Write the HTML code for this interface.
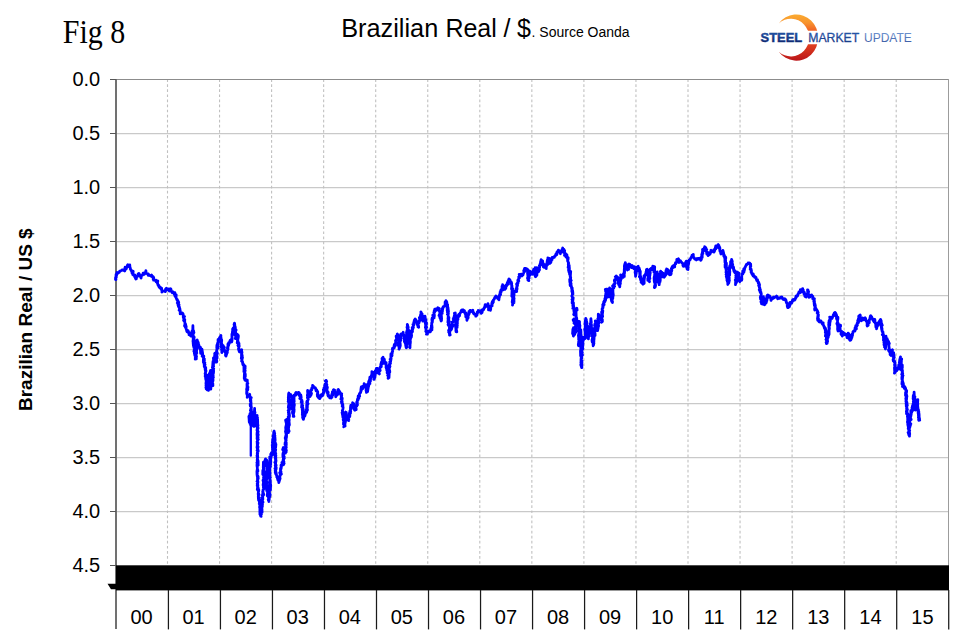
<!DOCTYPE html>
<html><head><meta charset="utf-8"><title>Fig 8 - Brazilian Real / $</title>
<style>
html,body{margin:0;padding:0;background:#fff;}
body{width:965px;height:639px;overflow:hidden;position:relative;font-family:"Liberation Sans",sans-serif;}
svg{position:absolute;left:0;top:0;display:block;}
text{font-family:"Liberation Sans",sans-serif;fill:#000;}
</style></head><body>
<svg width="965" height="639" viewBox="0 0 965 639">
<defs>
<linearGradient id="cres" gradientUnits="userSpaceOnUse" x1="0" y1="14.5" x2="0" y2="60.7">
<stop offset="0" stop-color="#fbab30"/><stop offset="0.18" stop-color="#f7932e"/><stop offset="0.36" stop-color="#f15f24"/><stop offset="0.65" stop-color="#e0401f"/><stop offset="1" stop-color="#bb1519"/>
</linearGradient>
<linearGradient id="tb" gradientUnits="userSpaceOnUse" x1="0" y1="32.5" x2="0" y2="42.3">
<stop offset="0" stop-color="#2159ad"/><stop offset="1" stop-color="#0c2266"/>
</linearGradient>
<linearGradient id="tb2" gradientUnits="userSpaceOnUse" x1="0" y1="32.5" x2="0" y2="42.3">
<stop offset="0" stop-color="#2c66b8"/><stop offset="1" stop-color="#122c74"/>
</linearGradient>
<linearGradient id="tb3" gradientUnits="userSpaceOnUse" x1="0" y1="32.5" x2="0" y2="42.3">
<stop offset="0" stop-color="#6f93cf"/><stop offset="1" stop-color="#3f60a8"/>
</linearGradient>
</defs>
<rect x="0" y="0" width="965" height="639" fill="#ffffff"/>

<g stroke="#c9c9c9" stroke-width="1.25">
<line x1="116.0" y1="133.5" x2="949.0" y2="133.5"/>
<line x1="116.0" y1="187.5" x2="949.0" y2="187.5"/>
<line x1="116.0" y1="241.5" x2="949.0" y2="241.5"/>
<line x1="116.0" y1="295.5" x2="949.0" y2="295.5"/>
<line x1="116.0" y1="349.5" x2="949.0" y2="349.5"/>
<line x1="116.0" y1="403.5" x2="949.0" y2="403.5"/>
<line x1="116.0" y1="457.5" x2="949.0" y2="457.5"/>
<line x1="116.0" y1="511.5" x2="949.0" y2="511.5"/>
</g>
<g stroke="#c0c0c0" stroke-width="1.1" stroke-dasharray="2.7 2.373">
<line x1="167.50" y1="79.2" x2="167.50" y2="565"/>
<line x1="219.55" y1="79.2" x2="219.55" y2="565"/>
<line x1="271.60" y1="79.2" x2="271.60" y2="565"/>
<line x1="323.65" y1="79.2" x2="323.65" y2="565"/>
<line x1="375.70" y1="79.2" x2="375.70" y2="565"/>
<line x1="427.75" y1="79.2" x2="427.75" y2="565"/>
<line x1="479.80" y1="79.2" x2="479.80" y2="565"/>
<line x1="531.85" y1="79.2" x2="531.85" y2="565"/>
<line x1="583.90" y1="79.2" x2="583.90" y2="565"/>
<line x1="635.95" y1="79.2" x2="635.95" y2="565"/>
<line x1="688.00" y1="79.2" x2="688.00" y2="565"/>
<line x1="740.05" y1="79.2" x2="740.05" y2="565"/>
<line x1="792.10" y1="79.2" x2="792.10" y2="565"/>
<line x1="844.15" y1="79.2" x2="844.15" y2="565"/>
<line x1="896.20" y1="79.2" x2="896.20" y2="565"/>
</g>
<line x1="116.0" y1="79.5" x2="949.0" y2="79.5" stroke="#8c8c8c" stroke-width="1"/>
<line x1="948.5" y1="79" x2="948.5" y2="590" stroke="#9c9c9c" stroke-width="1"/>
<line x1="116" y1="79" x2="116" y2="629" stroke="#6a6a6a" stroke-width="1.9"/>
<g stroke="#555" stroke-width="1" shape-rendering="crispEdges">
<line x1="110" y1="79.5" x2="116" y2="79.5"/>
<line x1="110" y1="133.5" x2="116" y2="133.5"/>
<line x1="110" y1="187.5" x2="116" y2="187.5"/>
<line x1="110" y1="241.5" x2="116" y2="241.5"/>
<line x1="110" y1="295.5" x2="116" y2="295.5"/>
<line x1="110" y1="349.5" x2="116" y2="349.5"/>
<line x1="110" y1="403.5" x2="116" y2="403.5"/>
<line x1="110" y1="457.5" x2="116" y2="457.5"/>
<line x1="110" y1="511.5" x2="116" y2="511.5"/>
<line x1="110" y1="565.5" x2="116" y2="565.5"/>
</g>
<path d="M116.0 279.5 L115.5 279.5 L115.6 277.3 L116.3 277.2 L115.8 278.2 L116.0 277.1 L116.1 274.4 L116.4 275.9 L117.0 273.4 L117.0 272.4 L117.6 273.5 L117.3 273.1 L117.8 272.9 L118.7 272.6 L119.0 272.3 L119.3 272.3 L119.7 271.2 L120.4 271.0 L121.1 270.6 L121.9 270.0 L122.7 269.9 L123.3 270.4 L123.8 270.3 L124.7 271.0 L125.1 269.7 L124.8 268.5 L125.1 267.3 L125.8 268.4 L126.3 268.8 L126.5 267.7 L127.0 267.3 L127.2 265.8 L127.8 264.8 L128.4 265.4 L128.1 265.1 L129.2 266.6 L129.8 265.5 L129.8 265.0 L129.8 266.4 L130.5 268.9 L130.4 269.3 L131.2 270.0 L131.1 270.6 L131.8 271.1 L131.8 272.0 L132.4 272.3 L132.0 273.0 L132.4 271.1 L133.2 271.4 L132.7 274.6 L133.1 274.5 L133.6 275.2 L133.4 274.5 L134.0 274.9 L134.8 275.0 L134.8 277.0 L135.1 275.8 L134.8 276.9 L135.8 279.0 L136.0 277.7 L135.6 277.9 L136.4 278.7 L136.2 278.2 L136.5 277.5 L136.6 276.7 L137.0 276.5 L137.1 276.5 L138.2 276.0 L137.9 274.6 L138.2 273.9 L138.9 273.4 L139.5 274.5 L139.1 273.9 L139.5 275.3 L140.6 275.4 L140.4 276.7 L141.1 278.0 L141.2 276.3 L142.0 275.1 L142.8 274.6 L142.6 275.0 L143.1 273.1 L143.6 273.9 L144.3 274.3 L144.7 272.7 L145.3 272.8 L145.6 272.9 L145.9 270.6 L146.0 271.8 L146.1 273.3 L146.7 273.6 L147.4 273.6 L148.0 274.5 L148.4 274.1 L148.2 275.3 L148.6 275.0 L149.5 275.3 L150.4 275.8 L150.8 276.0 L151.6 275.0 L152.3 276.5 L152.5 277.0 L152.3 277.0 L153.0 276.5 L153.4 276.9 L153.2 279.3 L153.7 277.6 L153.5 280.2 L154.7 280.1 L155.1 280.3 L155.8 281.1 L156.1 281.8 L156.1 280.2 L156.6 281.5 L157.2 282.7 L157.7 282.0 L157.8 280.8 L157.4 283.3 L157.6 283.6 L158.1 284.9 L157.9 284.8 L158.8 286.2 L158.6 285.5 L159.1 287.1 L158.9 285.4 L159.6 287.7 L160.1 287.3 L160.5 287.4 L161.1 289.3 L161.5 288.6 L161.4 288.6 L161.6 288.2 L161.4 288.3 L161.8 289.5 L162.1 290.7 L161.9 292.1 L162.4 290.8 L162.6 291.2 L163.3 291.1 L164.0 291.2 L164.5 290.9 L165.3 291.6 L165.7 290.7 L165.5 289.2 L166.4 288.3 L166.3 288.7 L166.6 289.8 L167.2 289.7 L168.0 289.8 L168.5 289.0 L168.8 289.5 L168.8 290.2 L169.3 291.1 L170.4 288.7 L170.9 289.0 L171.2 290.6 L171.4 291.2 L171.7 292.0 L172.5 292.0 L172.3 292.8 L172.8 291.8 L173.5 292.5 L173.7 292.5 L174.9 292.9 L174.4 294.6 L174.9 292.7 L175.1 296.3 L175.3 296.5 L176.2 294.8 L176.0 297.5 L176.5 298.8 L177.0 300.1 L177.2 299.3 L177.2 299.4 L177.7 301.8 L178.0 301.8 L177.3 302.9 L178.4 302.9 L178.1 301.1 L178.7 302.4 L178.3 302.8 L178.0 304.1 L177.9 304.7 L178.2 305.2 L179.1 304.8 L178.5 306.6 L178.7 305.5 L178.4 306.5 L179.5 307.2 L179.3 308.0 L179.9 308.9 L179.1 310.2 L179.6 310.3 L180.0 309.4 L180.0 309.7 L180.4 311.8 L180.2 311.1 L180.2 313.9 L180.3 312.1 L181.0 312.7 L181.8 313.6 L182.4 313.0 L183.2 314.3 L183.1 314.4 L182.9 313.8 L183.2 314.9 L183.1 315.4 L184.0 316.4 L183.3 317.6 L184.5 316.4 L183.2 316.4 L183.8 318.6 L183.6 316.4 L184.1 318.4 L183.6 320.3 L184.1 320.0 L184.0 320.6 L184.0 320.9 L184.8 319.7 L184.7 320.5 L184.4 321.4 L184.4 319.5 L185.0 323.5 L184.9 324.0 L185.3 327.0 L185.0 326.4 L184.5 325.8 L185.0 324.2 L185.6 324.2 L185.9 326.6 L185.9 325.7 L186.2 326.7 L185.9 328.4 L186.4 329.4 L186.8 331.2 L187.1 331.7 L187.2 330.2 L187.0 330.2 L187.8 332.0 L188.2 330.9 L188.7 332.3 L188.5 332.9 L189.3 334.3 L189.1 334.8 L189.7 334.8 L189.9 332.8 L190.6 333.7 L190.8 336.0 L190.5 335.4 L190.8 334.8 L191.3 334.6 L190.9 333.3 L191.8 334.2 L192.0 333.5 L192.0 332.3 L192.1 331.1 L192.8 330.7 L192.1 330.9 L192.0 333.4 L192.8 330.2 L193.0 331.0 L192.9 325.7 L192.8 329.5 L193.4 333.6 L193.9 332.6 L192.8 333.1 L193.8 332.9 L193.6 330.8 L193.3 332.8 L192.7 336.7 L193.3 336.5 L193.1 335.2 L193.2 336.1 L193.9 337.0 L193.9 339.1 L192.9 337.5 L194.1 339.7 L193.2 337.3 L194.2 337.2 L193.7 339.8 L193.3 338.7 L193.0 341.2 L193.3 343.3 L194.2 343.7 L193.7 342.4 L193.2 343.7 L194.2 340.5 L194.1 345.7 L194.3 342.2 L193.8 341.6 L194.1 344.3 L193.7 345.0 L193.5 346.2 L193.3 344.6 L193.9 347.6 L193.9 347.7 L194.8 347.7 L193.9 351.4 L194.4 349.5 L194.3 349.1 L194.1 351.0 L195.2 352.3 L195.3 351.1 L195.5 352.3 L194.5 352.2 L194.4 353.7 L194.7 353.9 L194.8 355.3 L195.6 352.5 L195.2 353.8 L195.3 354.3 L195.3 357.5 L196.3 358.9 L195.2 359.0 L196.2 355.6 L195.4 356.5 L195.7 356.2 L195.8 357.0 L196.4 358.6 L195.3 354.7 L196.5 356.7 L196.0 354.8 L195.9 353.4 L196.7 352.6 L196.8 353.4 L195.8 349.0 L196.2 351.0 L196.5 350.9 L196.5 352.2 L196.7 348.9 L195.7 346.6 L196.8 348.1 L196.6 347.9 L196.2 350.5 L196.7 348.1 L196.8 347.1 L196.6 346.0 L196.7 345.2 L196.8 343.4 L196.0 344.1 L197.4 342.5 L197.0 343.9 L196.5 343.4 L196.5 340.6 L196.6 342.5 L196.5 341.2 L197.2 339.9 L197.2 341.8 L197.4 341.4 L197.4 340.8 L198.3 342.6 L198.0 345.0 L198.6 345.5 L198.5 344.0 L199.3 346.4 L198.9 346.4 L199.2 347.3 L200.1 349.2 L199.6 347.8 L200.1 348.5 L200.0 347.9 L200.5 347.3 L200.5 350.2 L200.7 353.3 L201.8 352.8 L202.0 352.5 L202.3 352.0 L201.9 349.1 L202.6 353.3 L202.1 356.2 L202.6 354.4 L202.6 353.9 L202.7 355.3 L202.9 356.0 L203.7 357.2 L202.9 357.1 L203.8 356.1 L203.4 359.8 L203.4 360.7 L204.3 360.3 L204.4 360.6 L203.3 361.9 L204.4 359.0 L203.5 362.5 L204.9 362.8 L204.1 362.9 L204.2 363.2 L204.2 360.4 L204.3 365.5 L205.0 364.6 L204.1 364.8 L205.2 366.9 L205.5 368.7 L204.3 366.5 L205.7 367.6 L205.7 369.9 L205.1 368.3 L205.2 369.9 L205.7 370.9 L205.7 370.2 L205.6 372.1 L205.3 369.3 L206.0 370.9 L205.1 373.7 L205.4 374.3 L205.2 376.5 L205.6 376.9 L206.6 375.9 L205.7 379.1 L205.5 373.7 L206.5 377.5 L206.2 378.3 L206.5 378.1 L206.6 379.9 L206.6 379.1 L205.8 376.3 L206.4 379.8 L206.2 379.3 L206.0 380.6 L206.0 380.4 L206.5 383.6 L206.2 385.7 L206.4 380.0 L206.0 385.9 L207.1 385.7 L205.9 383.1 L206.9 382.1 L207.0 385.6 L205.9 387.7 L206.0 387.7 L207.1 389.8 L206.3 388.4 L206.2 388.8 L207.0 386.1 L206.8 387.0 L206.9 385.8 L206.3 385.7 L206.5 386.4 L207.2 384.6 L206.6 385.9 L207.3 385.1 L206.7 383.2 L207.6 381.8 L207.3 382.4 L207.2 381.8 L207.5 380.9 L207.0 379.5 L207.8 378.6 L207.3 377.4 L208.3 378.5 L207.5 376.9 L207.7 378.7 L207.7 381.5 L207.5 375.1 L207.2 377.8 L208.5 377.9 L207.9 376.9 L208.6 381.0 L207.4 380.1 L208.2 381.5 L207.6 379.8 L208.4 379.4 L207.8 381.0 L208.0 384.5 L207.8 380.9 L208.4 383.5 L208.0 386.4 L208.0 382.3 L208.5 389.6 L208.0 386.3 L209.2 388.8 L208.8 387.7 L209.1 389.0 L208.4 388.5 L209.3 387.1 L208.4 390.3 L208.9 389.2 L208.7 389.8 L209.3 388.8 L209.5 388.1 L209.4 388.7 L208.4 386.9 L209.2 386.0 L209.2 384.2 L209.0 383.1 L209.3 382.4 L209.2 380.7 L209.2 382.9 L209.3 384.2 L209.0 382.2 L209.3 381.2 L209.0 377.6 L208.9 378.3 L209.4 378.9 L209.5 379.9 L208.9 379.2 L209.9 377.3 L210.0 376.3 L209.7 375.6 L209.5 375.5 L210.2 375.9 L210.5 374.5 L209.4 373.7 L210.5 371.6 L210.5 370.5 L209.5 374.8 L209.4 376.9 L209.8 373.5 L210.6 376.6 L209.8 376.9 L210.1 378.7 L210.7 378.4 L210.2 379.9 L210.0 381.5 L209.8 382.2 L210.9 382.0 L209.9 380.8 L210.8 379.3 L210.6 383.8 L210.3 385.2 L210.6 386.1 L211.1 383.9 L210.8 389.2 L210.5 388.9 L211.4 385.7 L210.8 383.0 L210.7 381.3 L210.4 384.3 L211.3 382.5 L210.5 381.2 L211.1 378.0 L211.2 376.2 L210.4 378.8 L210.6 379.1 L211.1 377.5 L211.7 376.7 L211.4 378.0 L210.6 378.0 L210.7 378.2 L211.1 376.4 L211.5 375.8 L211.0 377.0 L210.9 373.5 L212.1 372.3 L211.0 372.8 L211.8 373.4 L211.5 374.1 L211.3 371.1 L211.8 375.0 L211.5 374.3 L212.4 373.4 L212.2 373.2 L211.3 375.0 L212.0 379.3 L211.4 376.4 L212.5 377.7 L212.7 379.8 L211.7 378.9 L212.2 379.6 L212.5 381.6 L212.1 380.8 L212.1 379.8 L212.8 384.0 L212.8 383.3 L212.9 385.6 L212.6 383.7 L212.2 382.3 L212.1 379.9 L212.4 380.7 L213.0 380.8 L213.0 379.0 L212.4 376.3 L213.1 376.5 L212.8 377.1 L213.4 377.2 L212.4 379.3 L212.5 377.3 L212.4 376.1 L213.2 375.4 L212.6 371.1 L212.5 374.5 L213.5 372.9 L213.1 371.4 L213.6 370.5 L213.2 368.7 L213.5 371.3 L213.1 368.7 L212.7 370.9 L212.4 370.6 L213.6 371.7 L212.5 369.7 L213.7 368.8 L212.4 367.4 L212.5 367.8 L213.4 366.0 L213.5 363.9 L213.0 366.9 L213.6 366.2 L212.6 366.2 L213.7 361.3 L212.7 365.9 L213.0 361.5 L214.0 362.2 L214.0 361.9 L213.9 359.2 L213.5 357.9 L214.3 359.9 L213.6 359.8 L213.4 358.3 L213.9 359.6 L214.1 357.5 L214.1 359.4 L215.0 358.9 L214.8 356.2 L214.6 357.0 L215.2 355.6 L215.0 353.2 L214.6 355.4 L215.5 354.0 L214.7 353.5 L215.7 355.3 L216.1 355.2 L215.5 357.3 L216.0 356.6 L215.5 357.5 L216.3 359.1 L215.6 358.0 L215.6 362.2 L215.6 359.3 L216.4 357.9 L216.6 362.1 L216.8 361.4 L216.3 358.4 L216.3 357.2 L217.0 358.1 L215.9 356.9 L217.2 357.0 L216.7 357.4 L216.3 353.6 L216.7 356.8 L217.2 352.4 L217.1 352.9 L216.4 352.3 L217.4 353.7 L216.6 351.1 L217.0 349.2 L216.6 350.8 L217.1 348.5 L216.8 350.4 L217.0 348.8 L216.8 347.9 L216.9 345.2 L217.5 347.0 L217.0 348.4 L218.2 346.5 L217.9 347.0 L217.1 349.0 L217.5 348.3 L218.1 348.0 L217.7 344.5 L217.3 344.2 L217.5 345.0 L217.8 342.5 L218.3 341.9 L218.2 340.7 L218.1 339.3 L218.0 340.5 L218.5 340.7 L218.7 340.2 L219.3 338.3 L219.7 337.4 L220.3 337.9 L220.7 337.6 L220.9 335.4 L220.5 336.3 L220.9 336.8 L221.2 339.2 L221.2 340.0 L220.8 339.2 L220.9 339.3 L221.3 339.4 L221.7 339.9 L221.5 342.5 L221.0 344.7 L220.6 339.3 L221.4 342.9 L222.0 345.4 L221.4 347.3 L221.5 347.5 L221.8 347.6 L222.0 344.5 L221.6 346.3 L221.2 344.0 L222.0 349.2 L221.2 346.7 L222.5 350.3 L221.5 349.6 L221.8 350.6 L221.8 352.5 L222.3 351.9 L221.7 350.2 L222.6 350.9 L222.0 351.4 L222.9 348.9 L222.2 347.8 L223.1 348.3 L222.9 348.1 L223.1 345.5 L223.0 346.4 L223.6 349.7 L223.6 348.9 L223.6 346.4 L224.4 347.5 L224.0 348.5 L224.3 349.8 L224.3 349.3 L224.3 349.7 L225.2 351.0 L225.0 351.3 L225.4 352.7 L225.8 351.2 L225.6 353.3 L225.5 355.5 L226.6 353.5 L226.0 356.1 L226.9 353.2 L226.0 353.1 L227.3 352.6 L226.4 351.8 L226.5 350.9 L226.9 351.2 L226.7 353.0 L226.9 352.7 L228.0 348.9 L227.8 347.1 L228.2 346.5 L227.4 348.1 L228.1 345.0 L227.9 344.1 L228.6 345.3 L227.9 344.7 L227.9 344.8 L228.4 344.3 L228.2 344.1 L228.7 342.6 L229.1 342.9 L228.9 344.3 L229.5 342.9 L229.8 341.3 L230.3 340.1 L231.0 341.5 L231.5 341.2 L231.7 342.0 L232.0 340.7 L231.7 338.4 L231.8 341.3 L232.1 339.3 L232.1 337.9 L231.9 335.9 L232.1 339.0 L231.9 334.2 L232.3 334.7 L232.9 333.1 L232.3 334.9 L232.6 334.8 L232.4 332.2 L233.0 328.5 L233.3 331.0 L232.7 330.8 L233.2 332.0 L232.6 329.1 L233.6 327.7 L232.8 330.2 L233.3 327.9 L234.3 329.0 L233.9 328.0 L234.5 325.8 L234.2 324.1 L234.4 323.9 L234.4 323.5 L234.6 324.0 L234.4 323.2 L234.1 324.7 L234.0 324.7 L234.9 326.4 L234.6 323.3 L234.9 327.6 L234.5 325.4 L234.7 327.2 L234.9 330.2 L234.4 327.5 L235.2 326.7 L235.6 330.6 L235.3 331.4 L234.6 333.3 L235.2 331.9 L236.1 330.1 L235.5 331.2 L235.7 333.0 L235.3 334.6 L235.1 335.3 L236.0 335.9 L235.3 338.5 L236.7 338.6 L237.0 336.4 L236.8 335.7 L237.1 335.0 L238.0 334.8 L238.0 335.4 L237.2 334.3 L237.7 335.4 L238.4 335.9 L238.2 337.8 L237.2 342.8 L238.4 342.7 L237.4 341.1 L237.6 339.9 L238.6 343.4 L238.0 341.7 L238.3 342.4 L237.7 340.7 L238.7 343.8 L238.5 342.6 L238.2 345.9 L239.0 343.4 L238.9 347.1 L237.9 345.4 L239.2 346.1 L238.4 346.3 L238.8 345.4 L238.8 349.9 L238.5 349.1 L238.6 347.8 L239.0 350.6 L239.2 349.2 L238.7 349.7 L239.4 351.7 L240.2 351.4 L240.3 352.1 L241.7 349.6 L241.5 352.2 L241.2 350.7 L241.7 353.6 L242.0 352.2 L241.6 353.5 L242.0 354.9 L242.3 356.0 L241.3 358.4 L241.7 355.1 L241.4 355.0 L242.2 356.8 L241.8 360.4 L242.3 361.5 L241.6 361.1 L242.5 357.5 L242.0 358.3 L241.8 358.5 L242.0 360.9 L242.5 362.4 L242.9 364.0 L242.6 362.0 L242.7 363.9 L243.0 365.0 L243.8 364.6 L244.0 365.1 L243.9 364.7 L243.7 365.4 L245.2 366.3 L244.6 368.1 L244.2 366.5 L245.2 368.1 L244.9 367.0 L244.2 370.5 L243.9 366.4 L244.0 369.8 L243.9 371.7 L244.5 368.7 L245.2 370.3 L244.7 372.7 L244.5 372.9 L244.3 376.6 L244.7 377.8 L244.9 373.3 L244.5 372.0 L245.3 374.3 L245.3 376.5 L244.3 377.2 L244.5 378.1 L245.0 380.2 L244.2 378.1 L244.8 379.6 L245.2 378.5 L245.6 380.4 L246.3 380.8 L246.5 380.4 L247.3 380.2 L247.3 381.8 L247.2 382.6 L247.3 382.0 L247.1 383.0 L247.8 383.5 L247.0 383.9 L247.1 388.2 L248.0 387.0 L246.9 388.5 L247.3 384.6 L247.8 389.5 L247.5 390.3 L247.8 387.5 L247.2 389.0 L246.9 388.7 L246.6 389.1 L246.7 389.8 L247.7 388.9 L246.7 390.9 L246.8 393.6 L246.7 393.7 L247.1 392.7 L246.6 392.8 L247.5 396.0 L247.2 397.3 L247.3 396.5 L247.9 395.1 L248.3 395.9 L249.7 394.3 L250.1 398.1 L250.6 397.8 L250.4 397.7 L251.3 397.6 L250.3 397.3 L250.4 398.8 L250.2 398.2 L250.4 400.3 L250.7 398.8 L250.9 401.4 L250.3 401.0 L251.1 403.0 L250.4 405.2 L251.0 404.3 L250.8 404.2 L251.0 404.1 L251.1 405.8 L250.4 406.3 L250.2 404.1 L251.1 405.8 L250.2 405.2 L251.3 407.5 L251.3 406.7 L251.4 407.9 L250.8 409.0 L250.4 410.5 L251.3 409.5 L250.6 409.9 L250.9 411.8 L250.6 413.9 L250.6 413.0 L250.9 415.0 L250.8 415.8 L250.0 413.6 L250.4 416.8 L250.6 418.8 L249.8 418.0 L249.8 415.0 L248.9 416.5 L249.1 418.6 L249.1 418.2 L249.1 418.7 L249.3 422.2 L249.3 420.3 L250.3 419.6 L250.5 419.1 L249.8 420.3 L249.9 423.4 L250.1 421.4 L250.4 421.3 L250.3 423.5 L251.1 423.7 L251.6 424.2 L251.5 424.7 L250.7 424.8 L251.1 424.5 L251.2 419.0 L251.3 421.6 L252.1 419.1 L251.2 420.0 L251.4 418.1 L252.1 414.6 L252.3 419.1 L251.2 419.3 L251.9 414.9 L251.6 419.8 L251.9 416.1 L252.1 414.7 L251.5 413.8 L251.5 412.6 L251.8 414.3 L252.9 416.3 L252.6 413.2 L253.0 414.8 L251.8 411.4 L252.8 413.2 L252.3 413.9 L252.8 412.0 L252.3 414.5 L253.3 414.8 L252.5 416.8 L252.3 417.1 L253.0 420.5 L252.6 421.5 L252.9 419.8 L252.4 419.5 L252.5 420.5 L252.8 420.9 L252.7 423.5 L253.6 424.6 L253.3 424.7 L252.8 422.1 L253.6 422.9 L253.5 422.6 L253.3 425.3 L253.0 425.5 L253.5 426.4 L252.8 423.6 L253.3 425.4 L253.7 424.8 L253.6 422.6 L253.4 421.5 L254.1 426.3 L254.3 422.9 L253.7 421.8 L253.8 422.1 L254.2 420.9 L254.6 420.4 L254.3 419.7 L253.8 419.2 L254.3 419.1 L254.6 415.1 L254.2 414.0 L254.6 415.1 L254.2 412.6 L254.9 414.7 L253.8 411.8 L254.8 413.2 L254.6 412.9 L254.6 408.5 L254.4 412.2 L254.7 414.2 L254.5 411.3 L255.0 412.4 L254.4 415.3 L254.6 414.4 L254.5 417.4 L254.8 418.0 L254.8 414.9 L254.4 418.1 L255.1 420.0 L255.6 419.1 L254.8 419.5 L255.7 422.1 L254.7 418.9 L254.5 418.0 L254.6 422.8 L255.8 421.2 L255.7 422.2 L255.3 418.1 L255.4 421.7 L255.2 423.7 L255.6 422.7 L255.8 421.1 L255.6 425.7 L255.5 424.5 L255.8 423.4 L256.5 419.0 L255.8 418.8 L256.6 417.8 L255.8 419.9 L255.6 416.4 L255.9 417.4 L256.2 420.6 L255.7 417.7 L256.8 418.8 L257.1 415.3 L256.0 417.9 L256.3 416.6 L256.2 415.9 L256.3 417.8 L256.6 417.4 L257.5 417.6 L256.8 419.4 L257.4 420.2 L256.4 420.3 L256.9 423.8 L257.5 424.0 L256.9 421.6 L257.0 421.1 L257.7 423.4 L257.6 419.1 L257.5 422.7 L258.0 425.7 L257.0 426.9 L257.6 427.7 L258.1 428.1 L257.0 425.9 L256.9 426.1 L257.9 428.6 L257.4 428.0 L257.0 430.3 L258.2 431.8 L257.5 430.2 L257.4 430.8 L257.7 435.2 L258.2 434.7 L257.2 431.8 L257.0 434.4 L257.3 437.4 L258.2 434.5 L257.7 436.0 L258.2 435.0 L257.2 432.6 L257.4 436.3 L257.3 437.4 L258.1 437.2 L257.2 435.9 L257.1 439.0 L258.3 439.3 L257.3 441.2 L257.6 440.6 L257.4 441.3 L257.1 441.7 L258.1 443.0 L257.2 442.7 L257.3 444.7 L257.8 444.7 L257.4 445.5 L257.0 447.1 L257.3 448.5 L257.5 447.7 L258.1 446.8 L257.4 448.0 L257.9 447.5 L257.2 445.8 L258.2 451.4 L257.5 449.4 L257.1 450.4 L258.2 450.7 L257.7 450.4 L257.8 451.1 L257.2 453.3 L257.6 454.0 L257.7 453.5 L257.4 454.0 L257.8 457.5 L257.4 454.9 L257.0 455.4 L257.3 457.8 L257.8 460.2 L257.4 460.1 L257.6 460.1 L257.3 459.1 L257.2 460.0 L257.3 461.9 L257.5 462.8 L258.1 463.9 L258.1 460.8 L256.9 462.8 L257.9 463.8 L257.5 462.8 L257.8 462.4 L258.1 463.7 L257.4 463.6 L257.1 464.5 L258.2 465.1 L257.0 466.1 L257.0 464.5 L257.3 467.6 L257.4 469.1 L257.8 470.3 L257.2 470.1 L257.9 471.2 L257.3 469.0 L257.4 468.5 L256.9 471.9 L257.3 473.6 L257.0 470.7 L257.0 474.0 L257.2 472.3 L257.2 476.1 L258.2 477.1 L257.9 476.0 L257.5 475.5 L257.3 476.4 L257.0 474.1 L258.2 478.5 L257.9 477.9 L257.8 478.5 L257.5 476.3 L257.5 481.4 L257.6 481.6 L258.0 482.0 L257.0 481.4 L257.3 481.2 L257.7 479.7 L257.7 484.6 L257.2 483.7 L257.5 485.6 L257.2 485.7 L257.9 485.3 L257.8 486.7 L257.6 486.8 L257.5 488.3 L257.3 489.3 L258.2 488.0 L257.6 490.0 L258.4 491.2 L257.6 487.8 L258.4 489.2 L258.6 489.3 L258.8 490.2 L258.3 492.8 L258.2 493.8 L258.3 494.8 L259.1 494.7 L258.6 493.9 L258.9 495.1 L258.4 495.0 L258.3 496.7 L258.5 499.5 L259.4 497.8 L258.6 500.0 L259.2 498.7 L259.3 498.1 L258.6 499.7 L259.5 502.1 L260.0 500.0 L259.1 500.4 L259.0 500.6 L260.0 504.7 L259.3 503.9 L260.1 504.6 L260.3 506.3 L260.2 506.5 L260.1 508.0 L260.3 505.9 L259.6 507.2 L259.8 505.7 L260.5 508.5 L260.1 508.2 L260.3 509.0 L260.7 510.2 L260.8 507.7 L259.8 507.8 L260.0 510.2 L260.6 510.6 L259.9 511.4 L259.9 508.4 L259.9 513.4 L260.9 512.7 L259.9 514.2 L261.1 516.4 L260.6 513.0 L260.8 513.6 L260.7 516.1 L261.1 513.1 L261.4 514.3 L260.8 513.5 L261.0 511.6 L260.8 509.9 L260.7 509.8 L262.0 509.2 L262.0 510.9 L262.1 512.2 L261.7 506.1 L261.9 507.5 L261.8 506.8 L262.4 506.1 L261.8 508.0 L261.7 505.3 L262.5 504.0 L262.3 505.3 L262.0 504.4 L262.0 505.5 L262.4 504.6 L262.4 501.1 L262.2 502.4 L263.0 502.1 L262.6 501.5 L262.3 502.7 L262.1 502.2 L262.7 498.5 L262.8 498.1 L262.2 498.1 L262.8 499.4 L262.7 496.7 L262.3 495.8 L263.0 492.6 L263.3 495.5 L263.7 494.6 L263.4 493.2 L262.9 495.5 L262.7 495.1 L263.6 494.8 L262.7 491.8 L262.9 491.2 L263.1 490.0 L262.9 492.0 L263.1 490.1 L264.0 488.6 L263.6 486.6 L264.1 488.7 L264.1 486.0 L263.4 487.6 L264.0 488.6 L263.1 484.9 L263.5 482.1 L264.1 483.4 L263.2 479.7 L263.8 481.7 L264.2 481.8 L264.0 484.6 L263.3 484.5 L264.1 482.3 L263.7 482.4 L263.0 480.6 L264.0 479.7 L263.2 479.6 L263.8 480.3 L264.0 477.5 L263.5 477.6 L264.0 475.6 L262.7 473.1 L263.4 474.2 L263.8 475.3 L262.8 474.5 L263.7 473.4 L263.2 472.4 L262.7 471.0 L263.8 472.5 L263.5 470.3 L263.0 471.9 L264.1 471.3 L263.1 469.7 L263.5 469.0 L263.6 466.7 L263.6 468.1 L263.7 469.7 L263.3 467.7 L263.4 462.2 L263.7 466.1 L263.9 464.9 L264.3 463.7 L264.4 463.9 L265.1 465.7 L264.6 464.1 L265.0 462.9 L264.9 463.8 L265.0 460.5 L265.2 460.1 L265.4 461.0 L264.8 461.7 L265.4 459.2 L265.6 459.8 L265.6 459.0 L265.5 459.4 L266.2 460.7 L266.7 460.1 L266.8 465.6 L266.8 463.9 L266.5 464.8 L266.9 467.6 L266.9 465.7 L266.5 464.3 L266.3 465.0 L267.2 465.7 L266.9 468.1 L267.4 469.1 L267.0 467.9 L266.9 469.4 L267.5 469.8 L266.7 468.2 L267.3 472.0 L267.3 472.9 L266.4 472.6 L266.3 472.2 L266.4 472.9 L266.6 472.8 L266.3 472.5 L266.9 471.3 L266.2 472.1 L266.8 474.2 L266.0 471.5 L266.4 476.4 L266.1 473.9 L267.1 477.4 L266.7 479.8 L266.3 480.0 L266.9 479.0 L266.7 478.7 L266.3 478.7 L265.8 481.9 L266.6 482.2 L266.6 481.2 L266.1 483.8 L267.0 483.1 L266.5 483.6 L266.5 484.6 L266.7 484.7 L265.9 484.9 L265.8 486.3 L266.7 486.5 L266.3 486.2 L266.6 485.2 L266.8 486.9 L267.0 487.1 L266.5 487.9 L267.3 488.7 L266.7 487.4 L267.0 490.6 L266.9 487.2 L266.8 487.3 L266.7 490.7 L267.9 490.4 L267.4 493.2 L268.1 495.0 L267.2 494.8 L267.3 496.0 L268.0 496.0 L268.7 495.4 L268.0 496.3 L268.6 497.8 L269.0 498.8 L268.9 498.9 L268.2 499.4 L268.9 501.5 L268.6 500.4 L268.6 500.1 L269.5 497.5 L268.4 500.0 L269.2 499.8 L268.5 495.2 L269.2 498.0 L269.8 493.5 L269.5 496.8 L269.0 495.5 L269.3 495.7 L269.8 494.3 L269.7 494.4 L269.2 491.5 L269.7 496.7 L270.2 494.4 L269.4 494.3 L269.5 491.3 L269.6 487.2 L269.4 485.3 L270.2 488.0 L270.2 486.6 L270.6 486.2 L269.9 487.5 L270.5 489.8 L270.5 487.4 L270.7 485.0 L269.5 484.6 L270.6 484.5 L269.5 487.2 L270.3 484.2 L270.2 483.6 L269.3 482.8 L270.2 479.7 L270.4 483.4 L269.5 481.3 L270.2 479.9 L269.8 479.1 L269.4 478.2 L269.1 477.3 L270.4 477.6 L269.2 475.6 L269.7 479.0 L269.2 477.5 L269.9 476.9 L269.6 476.6 L269.1 476.7 L270.2 473.1 L269.4 474.3 L270.1 473.7 L269.8 476.2 L269.2 472.2 L268.9 471.9 L269.5 472.3 L269.7 470.6 L269.9 469.2 L269.9 468.7 L270.0 466.1 L270.5 466.4 L269.7 468.3 L269.6 464.8 L269.8 461.6 L269.8 466.2 L270.7 464.1 L269.3 464.3 L269.7 460.7 L270.3 459.9 L269.7 460.7 L269.7 462.2 L270.8 462.8 L269.7 458.7 L270.5 459.1 L270.4 458.0 L269.7 456.9 L270.8 461.7 L270.6 459.7 L271.2 456.5 L270.9 456.7 L270.5 457.8 L270.7 455.7 L270.8 453.9 L271.2 453.7 L271.5 452.8 L271.5 453.5 L272.7 454.7 L272.6 451.0 L272.6 451.9 L273.2 451.5 L272.7 451.5 L273.1 448.7 L272.4 449.0 L272.7 450.3 L273.0 451.4 L273.3 450.2 L272.2 445.0 L273.3 444.0 L272.4 447.6 L272.4 446.7 L272.8 446.4 L272.9 445.5 L272.4 442.4 L273.3 438.8 L273.0 444.9 L273.5 440.0 L272.6 441.5 L273.2 440.5 L272.8 439.0 L273.0 438.6 L272.6 440.1 L272.7 439.7 L272.9 440.4 L273.2 438.0 L273.1 436.0 L273.7 436.6 L274.1 435.4 L274.0 435.8 L273.8 436.5 L273.6 434.4 L273.6 434.1 L273.7 432.9 L274.1 431.2 L273.7 432.2 L274.1 431.3 L274.7 433.7 L274.4 433.4 L273.9 432.5 L273.6 436.1 L274.3 435.7 L274.3 434.5 L273.7 438.3 L274.5 436.0 L274.9 435.6 L274.4 438.1 L274.5 435.5 L274.6 439.0 L274.9 436.9 L275.1 439.5 L275.1 440.4 L274.9 441.7 L274.4 442.5 L274.6 440.1 L274.5 445.2 L274.5 445.6 L274.5 444.9 L275.4 443.0 L274.5 444.5 L275.4 444.0 L275.9 444.3 L275.6 447.6 L274.9 448.4 L275.2 447.8 L274.9 453.4 L274.9 450.7 L275.7 449.8 L275.3 451.5 L274.6 449.6 L275.0 451.1 L275.8 453.9 L274.9 451.0 L275.3 453.0 L275.1 454.2 L275.4 452.7 L275.1 454.9 L275.9 455.8 L275.4 455.1 L275.4 457.6 L275.2 457.8 L275.1 456.5 L275.8 457.4 L275.8 457.9 L275.6 461.5 L275.4 456.9 L276.0 460.7 L275.7 462.6 L274.8 462.5 L275.6 462.7 L275.0 462.3 L275.9 464.9 L275.5 463.2 L275.2 463.1 L275.1 462.4 L276.1 465.3 L275.2 465.2 L276.0 466.9 L276.2 467.6 L275.3 465.8 L276.2 468.9 L275.0 468.5 L275.9 468.4 L275.4 472.5 L275.3 471.8 L275.8 470.1 L275.2 470.6 L276.2 473.0 L275.2 472.2 L275.8 474.2 L275.5 470.5 L276.0 472.2 L276.6 475.4 L277.0 476.5 L276.8 476.9 L277.5 476.4 L276.9 476.5 L278.0 480.5 L277.7 477.1 L278.2 478.1 L278.1 480.0 L278.3 480.3 L278.9 480.2 L278.2 479.6 L278.5 480.2 L279.4 480.1 L278.8 482.6 L279.4 480.5 L279.9 479.2 L279.7 476.9 L279.0 480.2 L279.3 477.3 L280.1 478.2 L279.6 477.8 L279.4 478.5 L280.2 475.4 L280.7 474.5 L279.7 472.8 L280.5 472.3 L280.1 474.7 L280.8 474.3 L281.0 471.5 L280.3 472.5 L280.6 472.9 L281.4 474.1 L280.5 471.9 L280.5 468.4 L281.1 468.8 L281.2 467.6 L280.8 468.2 L281.3 467.7 L281.0 465.4 L281.2 465.4 L281.1 465.1 L282.3 465.3 L281.9 462.4 L283.4 463.7 L283.5 462.0 L284.1 463.4 L283.5 463.4 L283.6 464.6 L283.8 463.7 L283.5 462.2 L283.9 461.7 L283.4 460.2 L284.0 457.6 L283.1 457.2 L284.3 458.3 L283.0 460.3 L284.1 456.4 L283.4 455.2 L284.2 456.7 L282.9 454.4 L283.4 456.6 L282.9 454.6 L283.7 454.4 L282.9 456.4 L283.0 453.4 L283.0 453.4 L284.1 450.2 L283.7 454.9 L283.7 450.0 L283.8 450.4 L282.8 449.9 L283.4 447.5 L282.7 449.5 L283.8 447.7 L284.4 448.9 L284.3 450.6 L284.8 450.7 L285.3 450.5 L285.5 453.0 L285.7 451.3 L286.1 451.3 L286.1 450.9 L286.3 451.9 L285.7 450.0 L286.4 450.8 L286.1 449.5 L285.3 449.0 L285.3 451.5 L285.7 447.6 L286.3 447.6 L285.5 445.9 L286.1 443.7 L286.3 445.7 L286.2 442.8 L285.9 443.4 L286.2 444.1 L286.2 442.3 L286.1 444.4 L285.0 444.5 L285.2 442.3 L285.8 441.9 L285.6 439.2 L285.5 439.1 L286.2 440.2 L285.2 438.1 L285.4 437.2 L286.0 437.0 L286.2 435.4 L285.2 437.9 L286.3 438.0 L286.5 436.5 L285.7 436.3 L286.0 435.2 L286.5 437.3 L286.6 432.6 L285.9 433.7 L286.4 433.4 L285.5 431.8 L285.5 431.0 L286.6 430.4 L285.7 427.1 L285.8 429.4 L286.6 430.4 L286.1 429.8 L286.7 425.4 L286.4 429.0 L286.1 428.9 L286.8 427.5 L286.4 424.3 L286.0 426.3 L286.8 422.3 L286.2 422.8 L285.6 420.1 L286.7 425.0 L286.2 421.8 L286.7 419.5 L286.8 423.5 L285.9 421.3 L287.4 422.4 L287.4 424.1 L287.1 425.4 L286.5 426.4 L287.5 424.1 L287.1 426.8 L287.6 426.7 L287.6 426.0 L288.2 429.1 L288.2 428.2 L288.4 426.0 L288.5 431.1 L288.5 430.1 L289.0 431.3 L288.2 431.5 L288.8 430.2 L289.1 431.2 L288.3 429.7 L288.5 429.4 L288.6 429.6 L288.4 432.7 L288.5 428.3 L288.5 428.6 L288.7 426.9 L288.7 427.3 L288.6 426.9 L288.4 426.8 L289.4 424.8 L289.0 421.4 L289.2 423.9 L289.2 422.8 L288.8 423.3 L289.2 420.0 L288.5 420.1 L288.8 418.3 L288.5 422.4 L289.2 419.5 L288.2 418.3 L288.6 419.4 L289.4 416.5 L288.2 417.1 L288.9 418.1 L288.7 416.8 L289.2 413.6 L289.0 415.8 L289.5 415.8 L289.2 412.9 L288.7 411.6 L288.6 415.0 L288.6 412.1 L288.4 412.4 L289.3 410.2 L289.0 408.8 L289.4 409.5 L288.2 410.6 L288.7 410.5 L289.0 406.0 L288.9 407.4 L288.5 405.8 L289.3 407.8 L288.3 407.4 L289.0 403.3 L289.4 404.8 L289.4 402.9 L289.0 403.7 L289.3 400.7 L289.1 404.1 L289.0 404.7 L288.9 402.5 L289.3 402.2 L288.4 401.0 L288.2 401.5 L289.2 398.2 L288.6 395.1 L289.3 397.5 L288.6 397.3 L288.3 399.7 L288.5 397.7 L288.9 398.3 L289.2 397.0 L288.3 398.0 L288.5 396.1 L288.6 393.9 L288.9 393.0 L288.9 394.4 L290.0 396.6 L289.5 396.0 L290.8 394.5 L290.8 396.9 L290.8 396.8 L291.5 395.8 L291.3 395.9 L291.2 396.1 L292.0 397.9 L292.2 401.2 L291.4 400.1 L291.7 400.9 L291.3 400.8 L292.1 399.0 L291.8 401.9 L291.8 401.8 L291.7 403.6 L292.1 404.5 L292.0 406.7 L291.8 406.0 L291.9 407.8 L293.0 404.1 L292.7 404.9 L292.7 409.8 L292.8 406.9 L291.9 408.7 L293.1 409.0 L292.3 408.7 L292.5 407.3 L293.5 410.6 L292.6 412.7 L292.7 412.6 L293.5 412.3 L292.5 413.0 L292.5 411.4 L293.1 414.5 L293.9 416.4 L293.2 416.4 L293.7 412.1 L293.4 412.6 L293.4 412.3 L292.7 411.6 L294.0 411.9 L294.1 409.4 L293.4 405.6 L294.0 407.8 L294.0 406.5 L293.2 407.5 L293.7 407.4 L294.1 406.6 L294.1 406.3 L294.3 405.2 L293.8 405.1 L294.0 405.8 L294.4 404.9 L293.5 401.4 L293.5 402.6 L293.4 403.5 L294.1 401.2 L294.0 401.8 L294.2 401.5 L294.0 398.7 L293.5 397.3 L294.1 398.3 L294.0 397.8 L293.9 396.7 L294.4 395.4 L293.9 395.9 L294.7 394.9 L294.1 395.1 L294.9 394.8 L295.2 394.8 L295.7 395.3 L295.5 393.3 L296.0 392.5 L296.4 394.6 L296.9 393.1 L297.6 392.8 L298.5 394.3 L299.2 393.6 L298.8 392.4 L299.4 393.1 L299.0 393.7 L299.3 395.5 L300.1 394.7 L299.6 395.8 L300.5 396.9 L299.8 398.4 L300.9 395.6 L300.7 394.9 L301.1 396.4 L300.6 396.1 L300.7 396.9 L301.2 397.8 L300.7 399.2 L301.9 400.3 L302.0 400.6 L301.8 400.7 L301.2 402.1 L302.3 402.0 L301.8 403.4 L302.1 403.4 L302.3 404.8 L301.7 405.4 L301.7 405.0 L302.2 406.0 L302.7 405.7 L301.5 406.9 L301.6 407.4 L302.3 407.4 L302.2 406.6 L302.5 407.0 L303.0 410.5 L303.0 410.3 L303.0 408.2 L302.8 410.8 L303.1 411.5 L302.2 409.6 L303.3 413.8 L302.4 411.6 L302.5 414.7 L302.3 414.2 L302.8 416.4 L303.6 418.4 L303.4 416.9 L303.4 419.4 L302.9 414.7 L302.6 417.5 L303.1 418.7 L303.4 419.4 L304.2 415.6 L304.4 416.2 L304.3 413.5 L304.3 416.1 L304.9 416.0 L305.4 413.6 L304.8 414.4 L305.4 411.8 L306.1 412.0 L306.0 409.9 L306.6 412.4 L306.0 411.9 L306.9 411.2 L306.9 411.1 L307.5 409.9 L307.2 409.7 L307.2 409.9 L306.7 408.2 L306.7 404.7 L306.7 408.5 L306.8 407.0 L307.3 408.1 L307.4 405.2 L307.0 402.6 L306.7 402.1 L307.1 403.2 L306.9 402.9 L308.1 403.7 L307.7 403.3 L307.0 401.2 L307.0 403.3 L307.8 400.3 L307.5 401.1 L308.3 399.3 L307.5 397.8 L308.2 398.0 L307.4 397.0 L308.0 398.5 L307.5 394.4 L308.5 396.3 L307.4 395.4 L308.2 393.5 L307.6 392.0 L308.7 393.4 L307.9 393.4 L307.8 391.6 L307.6 390.4 L307.8 393.2 L309.0 392.5 L308.4 391.3 L309.3 393.8 L309.3 393.5 L309.2 394.8 L309.6 394.5 L310.0 396.6 L310.1 395.8 L310.4 395.1 L311.0 394.2 L310.9 395.1 L311.2 394.4 L311.5 393.3 L311.2 392.9 L310.8 392.7 L310.9 389.8 L311.0 391.3 L311.3 389.8 L311.7 390.0 L311.7 389.9 L311.9 389.4 L311.6 389.9 L311.9 387.8 L312.7 387.3 L312.8 385.6 L312.9 386.2 L312.6 385.4 L313.4 386.0 L313.3 387.0 L314.4 387.6 L314.4 387.8 L314.9 387.7 L315.2 387.7 L315.7 388.7 L315.9 390.1 L316.1 390.7 L316.1 390.1 L316.2 389.8 L316.7 389.8 L316.6 391.2 L317.0 390.6 L316.7 390.9 L317.7 391.6 L317.8 395.2 L317.3 394.1 L317.3 395.3 L317.8 395.2 L317.6 396.2 L317.5 396.4 L317.8 396.6 L318.4 397.7 L318.7 395.7 L319.4 395.8 L319.6 398.7 L320.4 397.4 L320.9 394.8 L321.9 395.9 L322.3 395.7 L321.9 395.2 L322.1 396.0 L323.0 394.9 L322.6 393.8 L323.1 394.4 L322.7 394.2 L323.6 393.0 L323.1 393.7 L323.6 391.9 L323.4 389.3 L323.7 389.3 L323.7 391.8 L323.9 392.0 L325.0 387.8 L324.0 387.7 L324.8 387.6 L324.7 387.9 L325.1 384.2 L325.5 387.0 L325.7 386.7 L325.0 384.8 L324.7 387.5 L324.7 385.5 L326.1 383.2 L326.0 383.7 L326.1 380.5 L326.1 381.9 L325.3 380.9 L325.5 380.7 L326.4 381.4 L326.7 381.4 L325.6 384.5 L326.9 384.5 L326.7 384.3 L326.2 385.1 L326.6 386.2 L326.9 388.2 L327.0 389.9 L326.9 389.6 L326.3 387.7 L327.1 386.5 L327.4 387.9 L326.9 387.6 L327.0 392.6 L327.4 391.1 L327.5 392.6 L328.2 392.3 L328.1 393.5 L327.8 393.2 L327.6 393.0 L327.8 392.9 L327.8 394.9 L328.3 396.1 L328.6 395.2 L329.5 396.6 L329.7 397.9 L330.4 396.9 L330.6 396.9 L330.5 397.9 L331.3 398.0 L332.0 397.1 L331.9 397.2 L332.0 394.7 L331.7 394.8 L332.5 392.6 L332.7 393.9 L332.6 394.9 L332.8 395.3 L332.4 391.7 L333.2 393.7 L332.9 392.5 L332.9 391.8 L333.7 391.1 L333.3 391.3 L334.0 390.2 L333.5 389.7 L334.6 390.0 L334.1 391.1 L334.5 391.0 L334.6 391.1 L334.6 392.9 L334.7 393.2 L334.8 393.4 L335.2 392.5 L336.0 392.7 L335.8 394.2 L335.7 394.1 L335.7 396.8 L336.0 395.9 L336.8 395.3 L336.4 394.0 L336.4 394.9 L337.2 392.2 L337.6 393.6 L337.7 394.6 L337.7 392.8 L337.8 392.4 L338.0 391.8 L337.6 391.3 L337.9 389.8 L338.4 390.0 L338.3 389.4 L339.2 390.9 L339.4 392.1 L339.7 393.5 L339.5 391.8 L339.9 391.9 L340.0 393.4 L340.3 393.8 L341.1 395.3 L341.7 393.7 L341.2 396.1 L341.7 395.8 L341.0 398.8 L340.9 399.0 L342.2 398.0 L342.2 398.9 L341.2 398.6 L341.8 400.2 L342.1 399.3 L341.9 400.8 L341.3 401.9 L341.8 401.7 L342.2 401.6 L341.7 403.4 L342.4 403.3 L342.5 406.1 L342.8 404.4 L342.9 406.9 L342.2 406.1 L342.5 406.4 L343.1 407.3 L343.0 408.4 L342.7 409.9 L342.3 410.8 L343.0 412.5 L342.6 412.1 L342.1 412.7 L343.4 412.7 L343.2 413.5 L342.3 413.4 L342.4 413.8 L343.0 414.2 L342.5 414.8 L343.4 414.1 L342.6 413.9 L342.8 416.2 L342.9 417.3 L343.6 417.1 L343.3 420.3 L344.0 416.7 L343.4 417.3 L343.8 418.1 L343.2 419.4 L344.3 419.4 L343.5 422.9 L343.5 423.8 L344.6 422.5 L343.5 424.4 L343.6 424.4 L344.5 422.9 L344.1 423.5 L344.7 425.4 L343.7 426.8 L344.8 424.7 L345.1 423.5 L344.3 423.0 L344.3 426.2 L344.5 422.6 L344.6 422.6 L344.2 424.2 L344.7 423.6 L345.1 426.0 L344.6 424.8 L345.6 420.3 L345.4 422.1 L345.5 416.0 L345.4 419.0 L345.1 417.8 L345.4 418.6 L345.2 417.2 L345.9 417.8 L346.0 415.5 L346.2 416.5 L346.0 415.1 L345.1 414.0 L346.2 412.5 L345.6 412.1 L346.4 413.6 L345.9 415.2 L346.2 413.3 L346.4 415.4 L346.3 416.9 L346.6 417.3 L346.8 416.9 L347.4 417.8 L347.6 417.8 L347.7 419.8 L348.2 417.1 L348.8 420.5 L348.7 418.8 L348.6 417.9 L348.2 420.4 L348.8 416.4 L348.9 415.7 L349.3 414.1 L348.8 416.9 L349.9 415.0 L349.7 415.9 L348.9 416.8 L349.8 416.6 L349.7 412.1 L349.4 413.4 L350.4 410.1 L350.0 410.8 L350.7 411.3 L350.1 412.6 L350.5 413.3 L350.5 407.8 L350.5 407.8 L350.8 405.5 L350.9 406.2 L351.5 408.4 L351.2 405.3 L352.4 405.7 L352.4 406.8 L351.9 405.3 L352.8 405.6 L353.1 403.4 L352.6 402.7 L352.6 406.3 L353.7 403.5 L354.0 405.4 L353.7 403.9 L353.5 406.2 L354.0 406.0 L354.4 406.2 L354.3 408.1 L354.6 409.9 L354.2 409.3 L354.8 410.2 L354.9 410.3 L355.0 408.2 L355.6 408.4 L356.1 408.6 L356.0 408.9 L356.2 409.6 L355.7 407.3 L356.6 404.8 L356.8 406.1 L356.3 405.5 L356.9 405.5 L356.9 404.9 L357.0 405.0 L357.5 404.8 L356.7 402.1 L356.8 403.9 L357.4 402.8 L357.2 402.5 L357.1 401.4 L357.3 401.0 L357.5 399.2 L358.0 400.2 L358.2 396.0 L358.9 398.4 L358.7 396.8 L358.4 396.9 L359.2 396.6 L359.7 396.2 L359.3 394.6 L359.4 395.1 L359.4 393.9 L360.3 392.6 L360.5 392.8 L360.5 392.5 L360.9 391.2 L360.6 392.4 L360.9 390.5 L361.2 390.7 L360.9 389.8 L361.3 387.0 L361.8 389.3 L362.2 387.2 L362.4 386.4 L362.6 388.9 L363.4 387.5 L363.6 387.0 L363.6 386.8 L364.0 385.8 L364.1 383.7 L364.6 385.6 L364.8 386.4 L364.9 385.2 L365.5 384.9 L365.2 387.1 L365.5 386.5 L366.3 388.1 L365.9 387.4 L366.6 388.2 L366.0 389.9 L366.3 391.2 L366.5 392.4 L366.8 392.0 L367.5 391.3 L367.6 390.2 L367.6 391.6 L368.2 387.7 L367.7 390.0 L367.6 389.4 L367.9 387.4 L367.7 384.1 L368.5 386.7 L369.1 384.0 L368.2 384.8 L368.2 384.3 L368.5 383.3 L368.7 381.4 L369.4 382.8 L369.9 383.6 L369.4 379.8 L369.5 383.0 L370.3 380.9 L370.5 380.8 L369.7 379.4 L369.8 378.2 L369.9 377.1 L370.7 378.9 L370.8 377.4 L371.3 376.5 L371.7 375.1 L371.6 374.8 L372.1 374.4 L372.3 375.3 L371.7 375.5 L371.9 373.2 L371.9 371.6 L373.1 373.3 L372.2 373.6 L373.3 372.4 L373.1 372.4 L373.5 375.3 L373.9 372.8 L374.0 377.0 L373.4 375.9 L373.4 376.2 L374.2 379.3 L374.3 377.3 L373.8 379.4 L374.5 377.4 L373.9 376.5 L374.9 377.7 L375.2 374.8 L374.2 374.8 L374.5 376.1 L375.4 373.3 L375.3 370.6 L375.3 370.8 L375.8 372.0 L375.2 371.3 L376.2 370.8 L375.9 370.9 L376.3 369.8 L376.4 368.4 L376.6 369.5 L376.2 369.0 L376.6 368.4 L377.4 368.4 L377.2 372.8 L377.6 369.7 L377.7 371.2 L378.4 369.7 L378.2 369.3 L378.1 373.0 L378.9 372.9 L378.5 372.7 L379.4 373.9 L378.8 372.3 L379.1 370.9 L379.9 370.0 L379.2 371.5 L380.2 370.5 L379.9 369.7 L380.0 368.7 L380.0 367.8 L380.9 365.6 L380.8 366.9 L380.1 367.2 L380.5 366.8 L380.4 367.0 L381.3 366.6 L380.8 364.2 L381.7 364.5 L381.5 363.0 L381.6 364.7 L381.6 362.3 L381.3 362.5 L382.4 360.4 L382.4 361.0 L382.0 358.6 L383.0 357.2 L383.1 358.9 L382.9 359.4 L382.9 359.6 L383.2 358.2 L383.4 358.7 L383.7 358.6 L384.1 360.1 L384.4 359.3 L384.1 359.7 L384.0 363.4 L384.7 361.1 L384.9 362.6 L384.8 362.2 L384.8 363.4 L385.2 363.5 L386.1 362.8 L386.0 362.9 L386.1 362.6 L386.1 366.9 L386.0 367.4 L386.4 365.4 L386.1 365.6 L387.1 370.3 L386.7 368.8 L386.4 368.8 L387.4 368.5 L387.3 369.4 L387.8 368.9 L387.5 367.6 L386.8 370.4 L387.4 371.5 L387.7 373.3 L387.1 372.8 L388.0 370.8 L388.5 374.8 L387.7 375.6 L388.7 375.3 L388.1 378.3 L389.0 377.7 L389.2 373.8 L388.5 373.6 L389.2 373.0 L389.5 372.1 L388.5 374.0 L388.4 373.8 L389.6 370.1 L389.8 372.0 L389.4 372.6 L388.8 370.0 L389.1 368.7 L390.0 366.3 L389.0 367.3 L389.1 368.0 L389.2 364.5 L389.7 364.1 L389.7 363.3 L389.9 363.6 L389.8 364.7 L389.6 364.0 L390.5 363.5 L389.8 361.7 L390.1 363.5 L390.1 363.0 L390.6 361.6 L390.9 359.7 L391.1 358.2 L390.8 359.6 L390.1 359.2 L390.6 359.0 L390.9 359.7 L390.9 358.8 L390.9 354.0 L390.9 355.3 L392.1 355.0 L391.9 356.0 L391.2 354.1 L391.5 354.2 L391.7 354.5 L392.4 351.6 L392.2 353.3 L392.0 352.5 L392.7 351.2 L392.4 348.8 L393.1 349.0 L392.6 348.1 L392.9 348.6 L393.3 348.2 L393.8 347.9 L394.4 347.7 L394.2 346.4 L393.9 346.8 L394.4 344.4 L394.3 345.7 L395.4 345.8 L395.6 344.8 L395.3 344.6 L395.1 343.9 L395.9 341.9 L395.5 340.5 L395.9 342.7 L395.7 340.2 L396.5 339.4 L396.7 339.4 L396.1 336.1 L397.0 336.2 L396.7 337.5 L396.5 336.7 L397.1 334.9 L397.7 334.7 L397.3 333.9 L398.3 337.4 L397.2 337.0 L398.1 337.4 L397.4 339.3 L398.5 337.2 L397.9 338.5 L398.4 338.7 L398.0 340.3 L398.8 340.7 L398.9 342.6 L398.8 342.1 L399.2 343.8 L398.8 341.6 L398.2 345.0 L398.8 343.7 L398.6 343.0 L398.9 344.8 L398.6 344.6 L399.0 345.3 L399.3 344.9 L398.7 346.7 L399.6 346.4 L399.6 347.8 L399.0 349.1 L400.1 346.5 L399.2 345.8 L399.4 346.7 L399.6 345.8 L400.0 343.1 L399.5 345.3 L399.5 346.7 L400.2 343.2 L399.5 345.7 L400.2 344.1 L400.3 345.8 L399.8 341.5 L399.5 339.7 L400.8 340.5 L400.3 340.8 L400.7 338.2 L400.0 335.5 L400.8 337.7 L400.8 338.7 L400.2 336.8 L400.6 337.2 L401.0 336.2 L401.1 334.0 L400.8 334.2 L401.8 335.4 L401.4 335.2 L402.4 335.1 L402.6 334.7 L403.0 333.0 L403.2 332.3 L403.1 332.7 L403.3 334.8 L403.3 335.6 L403.1 334.0 L403.6 334.3 L403.7 335.1 L404.3 335.9 L404.3 335.5 L403.8 338.4 L404.5 339.8 L404.2 338.9 L405.1 339.6 L404.4 341.8 L404.6 338.9 L404.4 339.2 L405.3 339.7 L405.3 342.7 L405.1 342.9 L405.4 343.3 L405.1 341.2 L406.5 345.4 L405.6 344.7 L406.2 347.8 L406.6 345.6 L406.7 346.1 L406.3 344.9 L407.1 347.2 L406.0 346.1 L406.6 344.5 L406.5 343.7 L406.4 339.6 L406.2 341.3 L406.9 340.4 L406.1 335.9 L406.6 340.8 L406.1 339.8 L406.2 339.2 L406.8 337.4 L406.5 338.9 L407.5 337.0 L406.4 334.9 L406.7 334.0 L407.5 335.0 L406.8 335.8 L406.8 337.9 L406.8 333.3 L406.5 332.0 L406.6 334.0 L407.4 332.2 L407.0 330.4 L407.7 330.6 L407.9 329.7 L407.1 331.3 L407.6 329.1 L407.6 329.5 L407.0 327.1 L407.9 328.1 L407.3 324.5 L407.9 326.9 L408.2 327.4 L407.9 326.2 L407.6 325.5 L407.3 325.0 L408.0 328.0 L407.5 330.1 L408.0 328.5 L407.5 328.4 L408.1 328.0 L407.5 329.7 L407.6 328.4 L407.9 330.9 L408.4 330.8 L408.7 330.3 L408.2 331.4 L408.8 332.6 L408.2 331.4 L408.4 332.8 L408.8 337.5 L408.1 335.7 L409.3 335.9 L409.4 336.4 L409.3 337.1 L408.4 336.6 L408.2 339.0 L409.5 337.4 L409.3 336.4 L409.1 340.4 L409.7 341.4 L408.9 340.6 L408.6 343.0 L408.7 342.8 L408.9 342.4 L409.1 342.7 L410.0 343.1 L410.0 347.8 L410.0 346.4 L409.4 343.9 L410.1 345.5 L409.5 341.6 L410.0 344.5 L410.2 343.8 L410.4 341.8 L410.1 339.6 L409.8 339.7 L411.0 337.2 L410.9 337.4 L410.2 340.0 L410.2 337.2 L410.3 335.1 L410.8 337.1 L410.9 335.3 L411.3 337.2 L411.6 335.3 L410.9 333.4 L411.5 333.8 L411.3 332.0 L411.0 330.8 L411.6 332.5 L412.1 330.5 L411.7 330.9 L412.5 331.8 L412.4 330.6 L412.4 329.6 L412.2 327.3 L412.7 328.5 L412.6 329.4 L413.4 327.2 L413.3 324.6 L412.9 324.6 L413.9 324.9 L414.0 323.4 L413.8 322.6 L414.2 321.1 L413.7 322.9 L414.2 322.0 L414.2 320.9 L415.0 320.8 L414.4 320.0 L415.0 320.2 L415.1 319.9 L415.3 321.2 L415.1 318.8 L416.3 320.5 L416.3 321.5 L416.4 322.3 L416.8 322.0 L416.6 322.8 L417.1 323.5 L417.4 323.4 L417.0 323.7 L417.9 325.9 L418.0 325.7 L418.5 325.7 L418.7 327.3 L418.0 326.9 L418.3 325.1 L418.2 324.7 L418.6 322.8 L419.0 322.9 L419.4 320.9 L418.8 323.2 L419.2 321.7 L419.0 321.1 L420.3 319.6 L419.4 317.5 L419.8 320.7 L420.6 319.5 L419.7 317.5 L420.9 318.1 L420.4 315.8 L420.9 316.1 L420.3 316.5 L420.7 314.3 L421.2 315.6 L421.2 313.7 L420.9 312.0 L421.5 313.2 L421.4 314.1 L422.2 314.1 L422.0 315.1 L422.2 315.5 L421.7 316.8 L422.1 315.7 L422.1 316.6 L422.8 315.9 L422.2 317.0 L422.8 317.3 L422.9 318.5 L422.8 321.1 L423.8 319.4 L423.5 318.2 L423.6 316.3 L424.6 316.8 L424.0 319.5 L425.1 318.5 L425.0 316.2 L425.2 317.4 L425.2 317.0 L425.0 318.2 L425.2 319.9 L425.0 319.1 L425.7 321.0 L426.0 320.2 L425.3 318.7 L425.1 322.4 L426.2 323.8 L425.3 323.3 L425.5 320.7 L425.4 323.9 L426.5 322.5 L426.5 324.0 L425.9 325.1 L425.4 327.7 L425.9 323.4 L426.3 327.3 L426.8 327.3 L425.8 327.3 L425.7 327.5 L426.2 331.1 L425.8 331.3 L426.1 331.8 L426.0 331.2 L426.2 331.9 L427.1 331.2 L426.7 332.1 L427.2 332.8 L426.4 334.2 L427.4 334.1 L426.9 334.1 L427.0 332.4 L427.3 332.1 L428.4 332.4 L428.3 331.4 L428.8 331.4 L429.1 331.6 L429.4 330.7 L430.2 330.4 L430.4 331.8 L430.5 331.3 L430.9 330.7 L431.2 330.1 L431.5 327.9 L430.9 328.5 L431.9 329.9 L431.9 327.0 L431.6 326.0 L431.1 328.3 L432.1 327.8 L431.8 325.0 L431.4 326.5 L431.6 325.3 L431.9 322.4 L432.4 321.4 L431.7 323.0 L432.3 322.5 L431.9 319.5 L432.2 318.0 L432.6 320.1 L432.7 318.6 L433.2 317.4 L433.0 315.4 L432.8 315.1 L434.0 315.4 L434.1 317.9 L433.6 315.4 L434.1 315.4 L434.1 313.6 L434.5 315.9 L433.8 312.8 L434.0 312.9 L434.2 311.0 L434.8 311.8 L434.8 309.4 L434.8 310.3 L434.6 310.3 L434.7 309.2 L435.3 309.1 L435.6 309.0 L436.7 310.3 L436.9 308.7 L437.2 309.1 L437.8 307.7 L439.2 308.4 L439.4 308.8 L438.8 309.4 L438.8 309.9 L439.5 310.7 L439.1 310.0 L439.2 310.7 L440.2 313.2 L440.2 312.7 L439.0 315.5 L440.1 316.6 L440.0 316.0 L440.4 313.1 L439.7 316.2 L440.0 317.9 L440.4 318.0 L440.7 319.9 L441.0 317.0 L441.0 316.7 L441.2 317.3 L440.5 318.5 L441.1 321.0 L441.5 320.6 L441.5 317.8 L441.4 316.3 L441.4 315.7 L440.9 317.3 L441.6 318.4 L440.9 318.0 L440.8 314.7 L440.9 311.8 L442.1 312.3 L442.2 313.4 L441.8 310.6 L441.2 313.0 L441.2 313.1 L441.7 311.8 L441.8 312.5 L442.5 311.1 L442.3 308.3 L442.4 310.1 L442.5 309.2 L442.7 309.4 L442.9 307.5 L443.5 306.4 L443.5 307.3 L443.5 306.5 L444.1 306.2 L444.8 305.7 L445.1 304.2 L445.1 301.9 L445.2 303.1 L445.3 303.1 L445.9 302.6 L446.0 302.1 L446.0 300.7 L446.8 302.2 L446.1 303.5 L446.8 302.2 L447.1 306.4 L446.3 302.5 L446.6 306.3 L447.6 304.6 L446.8 307.7 L447.3 304.4 L447.7 306.1 L447.6 308.8 L448.1 308.0 L447.7 310.9 L448.4 312.1 L447.1 310.0 L448.1 309.0 L448.5 311.6 L448.1 310.9 L448.0 311.2 L447.3 311.9 L447.7 309.9 L448.4 313.8 L447.4 314.4 L447.8 313.7 L448.0 313.4 L448.2 316.3 L448.4 319.5 L448.9 317.4 L448.7 320.1 L448.4 320.4 L448.3 319.4 L448.0 318.4 L448.6 322.5 L447.9 322.1 L448.3 318.2 L448.1 317.6 L449.1 321.8 L449.3 321.5 L448.1 324.6 L448.3 324.1 L448.6 325.7 L448.3 325.1 L449.3 324.0 L449.4 325.2 L449.4 326.8 L449.5 328.4 L448.7 332.1 L449.6 332.9 L448.6 330.4 L449.4 330.5 L449.7 327.9 L449.8 331.8 L449.9 331.6 L449.6 331.2 L449.9 334.7 L449.1 332.6 L449.6 333.2 L450.2 334.9 L449.5 335.1 L449.5 332.1 L450.5 329.8 L449.8 330.7 L450.2 329.4 L451.0 329.9 L450.4 328.1 L451.4 329.4 L450.7 329.2 L450.8 329.8 L451.7 328.6 L451.8 327.9 L452.2 326.9 L451.4 324.7 L451.9 325.6 L452.5 324.8 L452.7 326.3 L452.0 322.1 L452.4 322.2 L453.0 321.9 L452.4 322.8 L453.4 321.1 L453.2 321.7 L453.7 319.2 L453.9 319.6 L453.9 317.5 L453.2 318.8 L453.7 318.1 L454.1 318.2 L454.6 318.0 L454.0 318.0 L454.7 314.3 L454.1 316.9 L454.7 316.8 L455.1 316.4 L454.6 313.6 L454.4 313.2 L455.3 313.0 L455.3 315.6 L455.5 317.7 L454.4 316.2 L455.5 319.1 L454.9 317.2 L455.6 318.5 L455.6 318.9 L454.8 317.4 L455.6 321.6 L454.9 319.4 L455.8 321.2 L456.1 321.6 L455.1 321.6 L455.6 321.5 L456.1 324.2 L455.5 326.3 L455.2 324.3 L455.9 326.8 L455.7 326.9 L455.7 328.1 L455.8 327.1 L456.1 329.2 L456.1 331.7 L455.9 328.3 L456.2 329.5 L456.3 325.6 L455.9 330.6 L456.1 331.7 L456.8 331.9 L456.8 331.8 L456.4 329.7 L455.9 327.6 L456.0 328.1 L456.5 327.1 L457.3 325.5 L456.1 327.4 L456.9 325.6 L456.2 325.4 L456.9 324.6 L457.1 327.4 L456.7 325.7 L456.6 323.3 L456.6 323.7 L457.4 323.7 L457.0 321.0 L457.4 322.2 L457.1 319.4 L458.0 319.3 L457.6 319.4 L456.9 317.3 L457.2 318.1 L456.9 318.6 L457.5 320.3 L457.9 319.3 L457.4 316.0 L457.5 316.3 L458.3 317.4 L458.5 314.8 L459.1 316.1 L459.6 315.7 L459.0 314.3 L459.9 313.8 L460.1 313.1 L460.3 312.8 L461.2 311.6 L461.3 310.3 L461.2 310.5 L462.0 310.8 L461.9 309.8 L462.9 309.8 L463.2 311.7 L463.6 310.0 L463.6 311.7 L464.5 310.8 L464.4 311.8 L464.6 312.4 L465.3 314.0 L465.5 313.8 L466.2 313.1 L465.7 315.8 L465.8 316.9 L466.1 316.4 L466.9 318.0 L466.9 318.4 L466.9 317.7 L467.4 317.4 L467.5 318.3 L466.9 320.3 L466.9 319.2 L466.8 316.0 L468.0 318.3 L468.2 317.3 L467.6 316.9 L467.9 316.3 L467.7 316.2 L468.4 315.6 L468.4 315.4 L468.9 313.8 L469.0 314.4 L469.2 312.1 L469.2 313.7 L469.0 311.4 L469.8 311.3 L470.0 310.4 L470.5 310.4 L470.6 311.8 L471.5 311.2 L472.1 311.2 L472.8 310.2 L472.9 311.5 L473.7 312.8 L473.3 312.9 L473.8 314.0 L474.3 313.9 L474.3 314.2 L475.0 314.4 L475.5 314.4 L475.7 315.5 L475.8 316.2 L476.1 316.1 L476.9 314.6 L477.2 313.0 L477.0 315.2 L477.3 311.8 L478.2 311.9 L478.4 312.3 L478.3 310.5 L479.2 311.3 L479.8 311.2 L480.1 310.8 L480.9 312.3 L481.2 313.3 L482.1 312.4 L482.0 309.8 L482.6 310.4 L482.5 310.9 L483.4 309.9 L483.8 308.8 L484.1 307.8 L484.2 308.3 L484.6 307.6 L485.0 307.1 L484.9 306.6 L485.1 305.0 L485.2 304.6 L485.7 305.8 L486.3 305.0 L486.8 306.3 L487.3 305.0 L488.2 305.6 L488.0 304.6 L488.0 303.7 L488.6 306.8 L488.5 309.9 L489.5 309.3 L488.8 309.3 L489.6 307.4 L489.2 307.5 L489.8 309.3 L490.4 310.3 L490.1 309.1 L490.3 308.9 L490.7 309.3 L490.7 306.1 L490.8 306.0 L490.4 307.3 L491.0 306.4 L491.2 305.6 L491.0 305.7 L492.1 305.9 L492.0 303.9 L491.8 303.4 L492.4 301.4 L492.4 302.5 L492.8 303.2 L493.1 302.2 L493.4 301.9 L493.2 301.2 L493.4 300.1 L494.2 299.3 L494.7 297.6 L495.1 297.1 L495.2 297.5 L495.4 296.8 L495.9 295.9 L496.2 296.7 L496.7 297.3 L497.1 296.9 L497.7 298.4 L498.7 297.9 L498.4 299.1 L498.9 299.8 L499.0 298.3 L499.0 296.7 L498.9 296.1 L499.3 297.7 L499.6 294.3 L500.3 294.7 L500.4 294.9 L500.4 294.2 L500.6 294.5 L500.1 292.1 L500.9 292.5 L500.2 293.6 L501.0 290.0 L501.0 292.4 L500.7 290.5 L500.8 291.6 L501.8 290.3 L502.1 288.2 L502.3 286.7 L502.0 286.7 L502.0 286.3 L502.5 286.1 L501.9 288.2 L502.6 285.9 L502.5 286.9 L502.6 284.7 L503.4 287.1 L503.8 286.2 L503.4 289.8 L503.7 288.5 L504.1 288.7 L503.7 288.9 L504.0 289.2 L504.5 288.8 L505.1 288.6 L505.0 289.4 L505.6 287.5 L505.4 287.1 L505.8 288.5 L506.0 284.8 L506.2 286.3 L506.6 285.9 L506.9 285.4 L507.2 284.5 L507.3 282.7 L507.6 283.2 L508.3 280.5 L508.1 281.5 L508.5 284.2 L508.1 281.0 L509.1 281.0 L508.9 279.0 L509.2 280.3 L509.2 279.2 L509.8 280.0 L510.0 280.0 L510.0 280.4 L509.9 281.6 L510.8 281.9 L510.4 281.2 L510.6 282.0 L511.4 282.7 L511.6 284.5 L511.7 283.5 L511.2 282.0 L511.6 285.2 L512.0 285.9 L511.9 287.1 L511.7 285.1 L511.8 289.5 L511.5 288.1 L512.6 289.7 L511.6 289.1 L512.8 288.7 L512.0 288.7 L512.7 291.1 L513.0 291.9 L512.1 290.4 L512.1 290.1 L511.8 296.2 L512.6 296.6 L512.4 294.2 L513.2 295.4 L512.8 295.3 L512.8 296.6 L513.2 295.4 L512.2 296.5 L512.8 297.7 L512.7 299.0 L513.4 296.3 L512.8 297.6 L512.2 302.0 L512.7 301.4 L513.4 302.3 L512.5 303.2 L513.3 301.4 L512.5 305.1 L513.0 302.4 L512.7 300.7 L512.7 302.5 L512.8 301.8 L513.1 301.7 L513.4 302.4 L513.7 300.2 L512.8 300.2 L513.9 298.5 L514.0 302.7 L513.8 300.2 L513.6 297.1 L512.9 298.7 L514.1 298.6 L513.6 296.6 L513.0 297.9 L514.0 295.6 L514.1 293.3 L514.0 294.1 L513.9 294.6 L513.4 293.2 L514.1 293.7 L513.6 290.9 L514.2 292.5 L515.4 290.7 L515.5 291.6 L516.7 291.5 L516.6 290.4 L516.2 289.8 L516.9 289.7 L516.2 289.9 L516.3 288.4 L517.1 288.8 L516.8 288.1 L516.8 285.7 L517.0 285.9 L516.5 289.1 L516.6 288.5 L517.6 284.9 L517.5 282.8 L516.6 284.1 L517.0 283.5 L517.5 283.2 L517.9 281.9 L518.1 282.7 L518.1 282.9 L517.8 280.2 L518.8 281.0 L518.2 280.4 L518.9 278.0 L518.7 276.8 L519.4 277.9 L519.3 277.3 L519.8 276.3 L519.2 274.4 L520.2 275.2 L520.4 275.2 L520.3 274.3 L521.4 274.1 L521.5 275.7 L521.8 275.9 L522.3 274.4 L523.0 274.9 L523.2 274.0 L523.9 272.5 L524.0 272.2 L523.7 270.6 L524.2 270.4 L524.7 268.8 L524.6 271.6 L524.2 269.9 L524.6 268.5 L525.4 268.8 L525.4 268.5 L525.2 268.9 L525.3 268.5 L526.2 268.9 L526.3 269.7 L527.0 269.3 L527.0 268.9 L527.8 270.2 L527.6 269.5 L527.2 270.5 L527.7 272.3 L528.3 272.4 L528.4 272.8 L527.9 275.7 L527.5 272.8 L528.6 274.5 L527.5 278.2 L527.9 278.5 L528.2 277.6 L527.9 280.0 L528.8 280.6 L527.9 277.7 L529.2 278.1 L528.2 274.7 L528.9 274.3 L529.5 274.7 L528.8 271.8 L529.4 271.0 L530.0 275.3 L530.2 273.5 L529.7 272.9 L530.2 271.3 L531.0 271.9 L530.9 274.3 L531.9 272.9 L532.5 274.3 L532.4 274.1 L532.6 272.5 L533.3 273.4 L533.7 272.1 L533.1 271.2 L533.4 270.7 L533.6 269.5 L534.2 271.6 L534.8 269.8 L534.6 272.7 L534.4 270.7 L535.1 267.7 L535.1 270.4 L535.1 272.7 L535.6 271.8 L534.6 274.0 L535.4 276.7 L536.0 274.6 L535.5 274.8 L535.8 276.1 L535.8 276.5 L536.3 275.5 L535.7 274.3 L536.7 273.6 L536.9 275.3 L536.9 273.1 L536.8 272.2 L536.8 271.4 L536.7 271.1 L536.8 267.9 L536.8 267.6 L537.1 268.6 L537.5 268.1 L537.7 270.1 L538.1 269.9 L538.6 270.9 L538.4 271.9 L538.4 271.8 L539.2 270.2 L538.7 267.6 L539.5 269.8 L538.9 268.6 L539.6 267.4 L539.5 267.8 L539.9 266.0 L539.4 265.5 L539.9 265.1 L540.7 262.8 L540.2 263.7 L540.4 263.9 L540.7 264.9 L541.2 263.9 L540.5 265.3 L540.9 264.4 L541.3 262.1 L541.5 261.9 L540.5 262.1 L541.5 260.3 L541.4 261.1 L540.8 261.2 L541.1 259.7 L541.3 261.5 L542.1 261.5 L542.7 261.1 L542.4 261.4 L542.9 263.3 L543.0 263.0 L542.7 263.4 L543.2 265.7 L543.7 264.1 L543.4 266.8 L544.5 265.6 L544.1 267.4 L544.9 267.1 L545.1 266.3 L545.9 264.6 L546.2 268.6 L545.6 267.6 L545.6 265.5 L546.4 266.9 L546.2 264.7 L546.6 264.8 L546.1 267.3 L546.3 264.3 L547.6 264.7 L546.5 265.3 L547.2 261.9 L547.8 263.4 L547.9 263.1 L547.1 261.5 L547.4 260.0 L548.0 261.0 L547.9 257.9 L548.1 258.8 L548.0 258.9 L549.0 260.9 L549.3 260.6 L549.5 258.3 L549.9 259.4 L549.9 262.0 L549.6 262.5 L550.6 262.7 L549.8 263.4 L551.0 261.8 L550.7 261.7 L551.2 260.7 L551.0 259.3 L551.6 258.4 L551.9 259.7 L552.0 258.2 L552.1 259.6 L552.2 257.3 L552.7 258.0 L553.2 257.2 L554.3 257.3 L554.4 256.6 L555.4 255.2 L555.3 256.0 L555.9 254.4 L555.9 254.1 L556.9 254.5 L556.7 252.7 L557.1 251.8 L557.4 252.2 L558.0 252.2 L558.4 250.1 L559.0 251.8 L559.4 250.9 L559.7 251.3 L560.5 253.7 L560.7 252.1 L561.0 251.7 L561.1 252.2 L561.6 250.7 L561.9 250.1 L562.1 249.5 L562.3 249.1 L562.7 248.0 L562.9 248.8 L563.6 249.7 L563.4 248.8 L564.0 249.6 L563.7 249.4 L564.3 250.3 L563.5 252.4 L563.7 249.8 L564.0 251.0 L564.5 250.5 L564.7 250.9 L564.2 252.2 L565.1 253.5 L564.5 255.3 L565.3 253.3 L564.9 255.1 L566.0 256.2 L565.9 256.8 L566.9 254.8 L567.0 256.2 L567.0 258.3 L568.0 257.5 L567.4 258.4 L568.0 259.2 L568.0 260.0 L568.2 257.6 L567.6 259.3 L567.7 259.7 L567.6 260.9 L568.7 263.1 L568.4 263.4 L568.3 264.2 L568.3 264.4 L568.4 265.0 L568.5 265.0 L568.1 267.6 L568.6 267.6 L569.2 265.3 L568.4 266.3 L569.1 265.5 L569.4 268.4 L569.0 268.8 L569.0 267.3 L569.2 272.7 L568.5 270.0 L568.7 269.4 L569.6 270.3 L569.5 271.9 L569.6 274.4 L570.5 272.8 L570.7 271.3 L570.5 273.8 L570.4 273.5 L570.4 276.5 L570.1 275.4 L570.5 274.3 L570.2 276.7 L570.2 276.7 L570.6 277.8 L570.7 277.4 L570.4 280.2 L570.6 280.1 L571.2 280.5 L570.2 280.5 L570.8 282.6 L569.7 279.3 L569.8 281.8 L570.2 283.1 L570.1 284.8 L570.3 285.8 L570.8 284.6 L571.1 283.8 L570.9 283.7 L571.7 288.8 L572.2 287.9 L572.0 289.3 L572.3 289.0 L572.0 287.8 L571.9 291.3 L571.9 290.7 L572.2 289.4 L571.8 291.0 L572.7 290.9 L572.7 292.9 L572.6 293.1 L572.9 293.0 L572.1 292.5 L572.9 294.2 L572.4 292.7 L572.4 294.4 L571.8 296.1 L572.6 297.7 L573.0 299.7 L572.4 298.9 L572.0 299.5 L572.8 298.3 L572.6 302.3 L573.2 297.7 L572.7 297.4 L572.1 302.8 L572.3 302.5 L572.8 303.1 L572.6 303.9 L573.0 302.2 L572.8 303.3 L573.4 302.9 L573.4 306.3 L572.8 305.9 L573.0 305.8 L573.5 306.3 L572.8 308.3 L573.6 305.5 L573.7 307.1 L574.3 308.6 L575.1 308.9 L575.8 308.8 L575.3 309.4 L576.7 308.4 L576.8 308.3 L577.1 310.1 L575.8 309.4 L575.2 310.8 L575.3 311.0 L575.4 312.7 L574.0 311.7 L573.8 310.1 L574.1 311.9 L574.1 311.5 L574.2 313.5 L573.7 314.5 L574.4 315.0 L575.8 312.2 L576.0 311.5 L576.2 316.7 L576.2 318.3 L576.1 319.2 L576.6 317.6 L576.8 319.1 L576.7 319.9 L576.5 319.0 L575.1 319.0 L574.5 319.0 L575.0 322.8 L574.4 322.5 L573.1 319.9 L573.8 319.1 L573.8 319.6 L574.4 322.3 L574.0 323.2 L575.4 323.9 L575.5 324.3 L575.9 321.4 L575.8 326.7 L576.4 322.4 L576.9 323.2 L576.8 320.9 L575.7 322.7 L575.7 324.5 L575.6 325.8 L574.7 328.3 L574.6 328.1 L574.3 328.7 L573.5 327.7 L573.3 328.7 L573.0 330.8 L573.1 330.5 L573.0 329.3 L573.9 332.6 L572.9 329.2 L572.6 333.7 L573.7 334.2 L573.1 333.2 L573.5 332.8 L573.6 334.9 L573.4 336.1 L573.2 334.4 L573.5 333.8 L574.2 335.1 L574.9 333.9 L574.7 330.6 L575.1 330.9 L575.9 331.2 L575.7 332.3 L575.5 332.0 L576.0 330.5 L576.5 328.4 L576.4 328.7 L576.4 328.6 L576.4 328.1 L575.7 326.4 L576.4 325.0 L575.9 326.9 L576.1 324.0 L576.2 326.3 L577.1 323.7 L577.1 326.4 L577.4 322.7 L577.5 323.9 L576.9 323.3 L577.5 323.5 L576.7 323.4 L577.9 322.5 L577.6 321.1 L577.9 321.2 L577.7 320.9 L578.3 321.2 L578.0 322.7 L579.4 321.8 L579.5 321.5 L579.5 325.8 L580.0 326.1 L579.7 324.7 L578.9 325.4 L579.9 327.9 L579.3 326.8 L579.6 326.1 L579.2 329.5 L579.6 328.4 L578.9 330.4 L579.5 330.7 L578.6 331.7 L578.9 330.3 L579.6 335.1 L579.2 332.3 L579.7 332.9 L579.5 332.9 L579.3 332.8 L579.2 331.3 L578.7 333.9 L578.8 334.5 L579.6 334.5 L579.4 334.0 L579.1 335.2 L578.4 335.2 L578.8 338.5 L579.6 343.4 L579.2 341.3 L578.7 341.6 L579.4 343.0 L579.3 339.9 L578.6 339.0 L579.3 342.0 L579.4 340.4 L578.7 342.1 L578.3 344.6 L578.9 345.7 L578.9 343.0 L578.6 344.9 L579.1 344.9 L578.5 344.0 L578.4 345.5 L579.5 344.9 L579.5 343.8 L579.0 345.6 L578.6 344.2 L579.2 343.2 L579.9 343.5 L579.0 342.7 L580.0 340.5 L580.0 343.9 L579.0 342.5 L579.5 342.9 L579.6 339.7 L580.3 337.7 L580.4 337.1 L580.3 337.6 L580.2 337.6 L579.5 336.7 L580.7 335.9 L580.9 334.6 L579.9 336.4 L580.5 334.7 L580.8 333.8 L581.2 335.1 L581.1 335.7 L581.0 334.2 L580.8 329.9 L580.9 334.2 L581.0 331.8 L580.5 334.8 L581.3 336.7 L581.5 336.5 L580.2 335.3 L580.2 338.0 L581.4 338.4 L581.3 337.4 L580.9 339.7 L580.8 338.3 L581.5 338.3 L580.8 339.7 L580.3 342.6 L581.3 343.0 L580.8 343.9 L580.4 346.5 L581.4 345.4 L580.4 346.4 L580.6 345.6 L580.8 342.8 L580.8 346.1 L580.6 344.5 L581.6 347.2 L581.0 347.5 L580.8 348.5 L581.2 348.3 L580.8 348.3 L580.9 350.3 L580.7 349.5 L581.3 349.0 L580.9 350.3 L581.0 351.0 L581.1 350.6 L581.0 351.8 L580.5 350.7 L580.6 353.7 L580.6 354.8 L581.7 354.2 L580.7 353.9 L580.6 355.6 L581.4 357.3 L581.6 356.2 L581.4 356.8 L581.4 356.0 L581.1 359.0 L581.8 360.6 L581.0 360.9 L581.6 360.2 L581.7 360.3 L581.2 360.2 L580.9 362.8 L581.5 362.9 L581.3 364.0 L581.8 367.7 L581.9 364.1 L580.8 364.9 L581.9 365.0 L581.5 367.3 L581.2 365.2 L581.4 364.8 L581.0 365.4 L581.5 367.1 L581.9 367.0 L581.1 363.7 L581.9 365.1 L581.6 363.6 L581.3 364.4 L581.6 363.6 L582.0 362.2 L581.3 360.9 L582.0 360.8 L581.0 359.7 L581.1 360.9 L581.2 358.1 L581.7 355.7 L581.8 357.9 L581.7 356.0 L582.3 355.3 L581.9 355.1 L581.4 353.9 L582.5 355.0 L582.1 354.6 L582.0 352.0 L582.3 352.3 L581.5 352.3 L581.4 351.2 L581.6 350.6 L582.8 349.0 L582.3 347.6 L582.8 348.3 L582.1 348.3 L582.6 348.2 L582.2 347.1 L581.6 347.1 L582.4 348.0 L581.8 346.6 L582.6 347.8 L583.0 343.5 L582.1 342.1 L582.9 342.4 L582.9 341.3 L582.1 342.2 L583.0 340.1 L582.3 343.7 L583.1 340.9 L583.4 339.4 L583.2 337.7 L583.7 337.2 L583.8 339.5 L583.5 338.7 L584.3 337.7 L584.1 339.0 L585.3 338.5 L585.4 336.8 L585.4 336.6 L585.2 333.8 L585.8 335.4 L585.1 332.3 L585.1 332.9 L585.5 332.5 L585.8 331.5 L585.0 331.7 L584.7 329.2 L585.8 331.8 L585.8 331.4 L585.8 330.9 L585.3 331.7 L585.1 329.7 L585.4 327.4 L585.1 326.9 L585.9 324.9 L585.1 324.4 L585.4 326.2 L585.7 324.8 L585.5 322.9 L585.2 327.5 L585.6 324.5 L585.0 324.1 L585.2 322.2 L585.6 323.4 L585.0 324.0 L585.2 321.0 L585.4 321.9 L585.3 321.3 L585.8 318.3 L586.0 320.7 L585.3 321.5 L586.3 319.6 L586.1 320.4 L585.6 323.2 L585.7 321.4 L585.6 321.7 L586.2 320.2 L586.9 322.7 L586.5 325.8 L586.2 325.2 L586.7 322.8 L586.7 324.1 L586.9 327.3 L586.3 328.8 L586.6 330.7 L586.7 331.6 L587.6 325.9 L586.6 332.4 L586.5 331.6 L587.6 330.9 L586.6 330.2 L586.8 332.4 L587.4 333.4 L587.5 331.5 L588.2 335.0 L588.2 334.8 L588.3 333.8 L587.3 333.0 L587.6 334.2 L588.1 335.9 L587.7 337.5 L588.5 337.6 L587.6 335.7 L588.4 338.8 L587.9 336.3 L588.7 336.2 L588.6 334.8 L588.9 336.4 L588.0 336.5 L589.0 333.8 L588.6 332.6 L589.3 331.5 L588.4 332.9 L589.2 331.3 L588.8 331.7 L589.8 331.7 L589.2 332.1 L589.1 332.6 L589.6 328.6 L589.8 332.6 L589.2 329.8 L590.0 326.6 L589.6 327.0 L589.4 328.8 L590.5 325.7 L590.5 326.8 L590.8 324.7 L590.8 325.1 L590.1 323.9 L590.5 324.4 L591.2 321.1 L591.3 323.7 L590.9 318.7 L590.7 322.4 L590.9 321.6 L590.6 323.1 L591.5 324.9 L591.4 327.2 L591.2 324.8 L590.6 324.5 L591.2 325.9 L591.3 328.8 L590.9 328.7 L590.9 329.2 L592.0 332.7 L591.3 332.1 L592.3 328.3 L592.4 329.7 L591.9 332.8 L591.2 332.5 L591.7 332.5 L591.7 335.9 L592.8 336.6 L592.5 335.0 L592.0 334.5 L592.8 335.1 L592.8 336.2 L592.2 334.9 L592.0 335.9 L592.7 336.6 L592.1 340.6 L592.0 339.9 L592.2 341.8 L593.4 340.1 L592.4 341.2 L592.7 341.6 L593.1 339.3 L593.0 344.1 L593.9 343.5 L593.0 342.5 L593.2 345.9 L593.9 341.6 L593.7 343.1 L593.8 342.9 L593.6 344.8 L593.8 341.0 L594.1 338.5 L593.2 338.5 L593.8 335.4 L593.8 336.2 L593.9 338.4 L594.6 334.4 L593.8 334.5 L593.6 334.4 L594.7 335.1 L594.1 334.6 L595.0 332.9 L595.1 335.4 L594.2 329.4 L594.6 331.9 L594.0 331.5 L595.0 330.4 L594.3 331.6 L594.3 330.6 L594.4 330.0 L595.5 330.7 L594.4 329.9 L595.3 328.5 L594.9 323.9 L594.6 325.5 L595.9 324.6 L595.7 325.2 L594.8 327.7 L595.0 326.3 L595.8 325.0 L595.6 322.4 L595.3 320.9 L596.1 323.6 L596.1 321.8 L596.5 326.0 L596.2 325.8 L596.7 323.7 L596.5 324.1 L596.2 325.2 L596.1 327.7 L597.1 324.5 L596.6 326.4 L597.2 325.8 L597.2 327.8 L597.9 326.5 L597.5 328.8 L597.1 330.4 L597.3 327.3 L597.7 327.8 L597.4 329.5 L597.6 330.7 L598.1 328.0 L598.0 327.7 L598.6 326.0 L598.4 323.3 L597.7 326.8 L597.9 326.7 L597.9 326.7 L598.7 321.6 L598.8 323.0 L598.0 322.4 L597.6 320.8 L597.9 321.4 L598.3 322.0 L598.3 321.9 L598.1 321.6 L597.8 318.9 L599.0 317.1 L598.3 317.6 L598.3 314.1 L599.3 315.6 L598.9 315.2 L598.5 314.9 L598.7 314.7 L599.2 316.1 L598.9 316.1 L599.9 318.3 L600.1 317.2 L599.6 318.0 L600.5 318.9 L600.3 319.5 L601.4 319.7 L601.7 320.1 L601.1 319.5 L602.1 321.3 L601.5 322.3 L602.4 321.4 L601.8 318.7 L602.4 319.9 L602.1 319.3 L601.8 318.7 L601.7 317.0 L601.7 318.6 L602.5 315.2 L601.9 317.6 L602.6 316.5 L601.8 314.9 L601.6 312.2 L601.6 311.9 L602.8 311.1 L602.4 313.6 L602.6 311.7 L602.4 313.7 L602.8 310.7 L602.5 310.2 L602.3 310.1 L602.1 308.8 L602.2 310.2 L602.5 308.7 L603.0 304.9 L602.9 307.8 L602.9 308.1 L603.2 306.0 L603.0 306.2 L602.7 304.8 L603.4 303.8 L603.8 302.1 L604.1 304.6 L603.7 301.8 L604.9 301.7 L604.3 300.7 L604.4 300.7 L605.3 300.5 L604.9 298.6 L605.4 297.5 L605.8 299.1 L604.6 301.0 L605.5 300.4 L605.3 297.8 L605.7 297.2 L605.5 297.2 L606.0 295.9 L606.3 298.0 L605.5 297.9 L605.4 295.5 L605.7 295.1 L605.9 292.7 L606.6 289.1 L605.3 289.3 L605.9 292.0 L606.5 292.1 L605.6 290.9 L606.2 289.6 L605.6 291.0 L606.2 290.9 L605.9 291.2 L607.3 289.2 L606.3 290.5 L607.1 291.2 L607.7 292.0 L607.4 292.3 L607.4 292.2 L607.8 294.8 L607.6 293.9 L607.9 293.0 L608.3 295.0 L609.0 296.4 L608.5 296.8 L609.2 294.6 L609.2 295.3 L608.6 293.6 L609.3 295.7 L608.8 295.2 L609.1 293.9 L609.9 293.0 L608.9 292.1 L609.8 295.3 L610.2 290.9 L610.3 292.1 L609.2 289.8 L610.4 289.9 L609.6 287.9 L610.3 291.8 L610.5 292.4 L611.0 293.0 L610.1 294.5 L610.8 295.1 L610.5 290.4 L610.2 291.7 L610.2 294.9 L611.5 295.1 L610.8 296.7 L611.6 298.0 L611.7 295.9 L610.9 296.8 L611.4 296.2 L610.8 297.0 L611.7 301.5 L611.7 299.4 L612.4 301.6 L612.4 302.6 L612.5 301.8 L611.5 298.9 L612.4 299.5 L612.6 296.9 L612.3 298.7 L611.6 297.9 L612.2 296.0 L612.9 297.9 L612.1 297.5 L611.8 297.7 L612.6 297.4 L612.7 295.9 L613.1 296.0 L612.7 297.0 L612.6 294.6 L612.5 293.1 L612.8 292.7 L612.6 289.5 L613.3 295.2 L612.9 292.9 L612.9 288.3 L612.6 289.7 L612.4 288.6 L613.7 286.8 L613.8 287.8 L612.6 286.0 L613.7 287.7 L614.0 285.8 L612.9 285.7 L614.4 286.0 L613.3 286.5 L613.7 284.5 L614.6 286.3 L613.9 284.9 L614.7 283.3 L614.9 283.9 L615.1 283.3 L614.6 281.7 L614.4 280.3 L615.2 280.7 L615.1 280.3 L614.6 279.8 L615.7 279.3 L615.8 278.2 L616.0 276.3 L615.3 276.8 L615.8 277.0 L616.3 275.9 L616.4 276.3 L617.2 276.9 L616.7 279.3 L617.7 278.3 L617.8 279.0 L618.7 280.3 L618.4 279.0 L618.7 278.0 L618.3 278.9 L618.1 283.3 L619.2 284.4 L619.4 285.2 L619.0 283.3 L618.6 284.0 L618.5 282.6 L618.7 284.7 L619.4 284.0 L619.9 285.8 L619.7 286.9 L619.5 285.5 L619.6 281.9 L620.2 282.1 L620.4 283.7 L619.6 282.3 L619.4 284.6 L619.9 281.4 L620.9 278.7 L620.7 279.8 L620.9 278.6 L620.4 281.4 L620.3 281.9 L620.8 278.1 L620.6 278.8 L621.2 279.1 L621.2 277.8 L620.6 274.8 L620.8 276.6 L621.3 276.7 L621.4 276.2 L621.5 276.1 L623.0 276.6 L623.0 277.4 L623.2 277.4 L623.5 275.0 L623.9 275.5 L623.1 274.7 L624.0 272.8 L624.0 273.1 L624.4 276.4 L623.9 274.3 L624.4 271.9 L624.2 274.0 L624.5 273.1 L624.6 270.7 L624.2 272.5 L624.3 269.5 L624.6 266.7 L624.4 265.7 L624.5 268.2 L624.4 266.4 L625.7 268.5 L625.0 265.0 L624.5 266.0 L624.7 264.5 L626.0 266.2 L624.9 263.9 L625.3 263.3 L625.3 262.6 L625.9 265.6 L626.3 265.0 L626.2 267.1 L625.9 266.5 L626.8 265.1 L627.3 264.9 L626.7 267.4 L627.3 268.8 L626.7 268.4 L627.4 270.0 L627.6 269.1 L628.0 268.7 L628.1 269.3 L628.6 269.4 L628.0 268.3 L628.3 267.0 L629.0 267.8 L628.5 266.9 L628.6 265.7 L629.2 264.3 L629.6 264.5 L629.0 264.0 L629.8 264.3 L630.3 265.1 L631.2 265.6 L631.5 267.6 L632.2 265.5 L632.9 266.5 L633.2 267.3 L633.4 267.3 L633.5 267.8 L633.7 268.0 L633.3 268.1 L633.9 268.7 L633.8 267.7 L634.6 269.1 L634.6 266.7 L635.5 269.2 L635.1 272.7 L635.4 273.0 L635.6 276.3 L636.4 272.3 L636.0 273.1 L636.1 272.0 L636.7 269.7 L636.8 271.4 L637.1 269.2 L636.9 271.0 L637.0 267.3 L637.1 268.6 L636.9 267.2 L638.1 267.3 L637.3 267.1 L638.2 266.2 L638.4 269.2 L638.8 268.3 L639.0 269.1 L639.2 268.1 L639.1 270.0 L639.6 269.3 L639.8 271.2 L639.4 270.7 L639.9 274.1 L640.3 271.2 L640.2 275.3 L639.7 273.5 L640.0 275.5 L640.6 277.3 L639.4 276.7 L640.8 278.1 L640.5 276.0 L640.1 276.7 L639.8 275.2 L640.7 279.6 L640.1 277.2 L640.3 277.6 L640.6 279.7 L640.8 277.4 L641.3 281.3 L641.3 282.5 L641.1 282.2 L641.8 281.7 L641.6 282.3 L642.4 283.3 L642.3 283.4 L642.4 282.5 L642.2 281.0 L643.0 284.2 L643.3 282.7 L643.7 283.6 L643.1 281.8 L643.1 281.3 L643.3 278.7 L643.4 279.2 L644.1 280.7 L644.2 283.3 L644.0 281.4 L644.4 278.4 L644.6 277.1 L643.9 276.1 L644.1 277.5 L644.4 277.5 L644.9 274.7 L644.7 275.0 L645.2 274.7 L645.1 274.7 L645.2 275.0 L645.9 273.4 L646.1 271.6 L646.4 271.6 L646.3 271.6 L646.5 269.5 L647.1 269.2 L646.9 272.8 L646.9 270.3 L647.2 272.4 L646.6 269.6 L647.4 269.9 L647.8 270.4 L647.2 273.7 L647.2 275.2 L647.3 274.6 L647.8 274.4 L647.6 275.5 L647.8 275.0 L648.3 274.7 L647.7 274.8 L648.5 278.4 L647.8 278.3 L647.8 280.4 L649.1 279.8 L648.5 279.0 L648.1 278.7 L649.3 281.2 L649.5 281.7 L649.1 280.4 L649.0 277.4 L648.9 277.5 L649.6 276.5 L649.5 276.9 L649.9 278.6 L649.2 276.2 L649.0 277.5 L649.0 274.3 L649.5 277.0 L650.0 274.6 L649.1 276.0 L649.9 273.1 L650.0 272.9 L649.6 272.5 L649.7 272.6 L650.3 273.1 L649.9 269.9 L650.1 269.3 L651.0 269.6 L650.7 270.0 L651.7 269.5 L651.4 268.2 L652.4 269.0 L652.8 266.2 L653.3 266.6 L653.6 266.5 L653.5 267.0 L653.9 268.5 L653.8 267.2 L654.3 269.2 L653.6 269.5 L654.0 271.0 L654.5 271.5 L654.7 266.8 L653.9 272.2 L654.2 269.6 L654.7 270.9 L654.0 271.3 L654.3 269.9 L653.7 270.7 L654.8 272.8 L654.9 273.4 L654.6 275.1 L654.7 275.5 L655.1 273.6 L654.1 277.5 L654.8 278.0 L654.2 278.1 L654.2 278.9 L654.7 277.4 L654.1 278.7 L654.2 278.7 L654.2 280.1 L654.4 282.0 L654.9 283.2 L655.5 284.0 L654.7 285.5 L654.4 287.7 L655.3 286.8 L655.6 285.3 L654.7 282.3 L655.9 282.4 L655.9 279.2 L656.0 279.7 L655.5 281.8 L655.4 281.2 L655.4 281.0 L655.8 281.2 L656.8 279.3 L655.7 278.4 L656.1 276.9 L656.3 276.6 L657.2 280.2 L657.2 277.4 L656.2 276.8 L656.6 276.2 L657.4 273.5 L657.2 271.8 L657.8 276.9 L657.6 278.1 L657.8 277.1 L657.9 277.6 L658.1 278.1 L657.3 279.0 L658.1 280.0 L658.0 282.1 L658.9 282.6 L658.0 281.4 L658.4 280.2 L659.2 279.6 L658.5 280.3 L659.2 284.7 L659.2 283.3 L659.3 283.1 L659.6 279.2 L659.5 282.9 L658.8 283.5 L659.2 281.7 L660.1 281.7 L659.6 278.9 L660.3 280.0 L660.1 276.9 L660.0 279.9 L660.3 280.2 L660.1 275.7 L660.4 276.2 L659.7 275.2 L660.2 273.5 L660.8 272.5 L660.5 273.8 L660.7 271.1 L660.8 274.0 L660.4 271.6 L660.7 272.1 L661.6 272.2 L661.9 273.2 L661.7 274.8 L662.5 276.9 L663.1 273.2 L663.3 274.7 L663.7 274.1 L663.5 275.2 L664.1 275.6 L664.1 276.0 L664.1 277.3 L664.9 276.1 L664.5 275.9 L665.1 275.8 L665.3 274.7 L665.4 274.7 L665.6 275.3 L666.0 274.1 L666.0 274.0 L666.4 272.5 L665.7 272.6 L666.3 270.0 L666.0 270.4 L666.6 271.4 L666.6 271.0 L666.6 268.9 L667.6 269.4 L667.3 269.9 L667.4 269.7 L668.3 270.3 L668.3 272.3 L668.7 274.2 L668.4 270.2 L668.8 273.4 L669.8 274.7 L670.2 274.7 L669.8 274.8 L669.8 273.8 L670.1 273.8 L670.8 272.6 L670.8 274.5 L671.2 273.7 L670.5 273.8 L671.6 271.3 L670.5 272.5 L671.3 270.6 L671.7 269.1 L671.3 270.6 L671.9 270.2 L671.4 268.7 L672.1 267.2 L672.2 267.0 L672.8 265.9 L673.1 266.5 L673.0 267.7 L674.0 267.0 L674.1 265.4 L674.7 266.9 L674.7 264.9 L675.5 263.3 L675.4 263.9 L675.7 263.9 L675.5 262.6 L675.7 262.7 L676.4 262.6 L676.8 260.9 L676.8 260.1 L676.9 260.0 L676.8 259.4 L677.1 260.1 L677.8 260.4 L678.5 258.7 L678.9 260.4 L678.9 262.5 L679.9 260.7 L679.8 261.1 L680.4 260.8 L681.1 262.0 L681.3 262.1 L681.4 262.1 L681.8 262.7 L682.4 263.5 L682.9 263.4 L683.3 264.7 L682.9 265.4 L683.3 266.2 L683.5 265.6 L683.8 264.6 L684.0 265.5 L685.0 264.4 L684.8 266.1 L685.5 263.5 L685.3 263.9 L685.6 262.3 L686.0 263.2 L685.9 262.1 L686.3 261.1 L686.4 261.9 L686.7 262.9 L687.2 263.4 L686.1 265.1 L686.9 265.9 L686.9 265.5 L687.5 264.4 L686.7 267.5 L687.6 268.5 L687.3 268.6 L687.0 268.7 L687.5 267.5 L686.9 266.0 L687.2 267.8 L687.4 267.7 L688.0 265.3 L687.4 269.3 L688.0 269.5 L687.5 267.4 L688.2 267.8 L687.9 265.6 L687.5 262.1 L688.5 264.7 L688.2 263.3 L687.9 263.3 L688.7 263.4 L688.9 260.4 L688.6 262.3 L688.5 261.8 L688.8 261.2 L688.5 262.6 L689.0 261.2 L689.2 259.8 L689.5 260.1 L690.2 259.6 L690.0 259.7 L690.5 258.6 L691.0 257.6 L691.9 256.4 L691.6 257.2 L692.1 255.2 L692.6 254.9 L693.3 254.4 L693.3 256.8 L693.9 257.8 L693.9 258.0 L693.9 257.3 L694.7 259.0 L694.8 258.9 L695.5 259.1 L695.6 259.0 L696.3 259.9 L697.1 258.5 L697.4 259.0 L697.8 259.2 L698.2 258.4 L698.9 259.0 L699.0 258.3 L700.1 258.2 L700.2 258.8 L700.7 260.3 L701.0 258.8 L701.4 259.5 L701.2 257.5 L701.6 256.8 L701.6 256.2 L701.9 255.5 L701.7 254.7 L702.2 253.2 L702.2 257.4 L701.9 255.6 L702.7 252.4 L702.2 254.0 L702.4 251.8 L702.9 253.7 L702.8 252.4 L702.5 249.4 L703.2 250.4 L703.5 249.9 L704.1 250.7 L703.9 250.0 L704.1 248.1 L704.8 248.4 L704.7 246.7 L705.8 247.8 L705.2 248.5 L705.9 248.6 L705.7 250.4 L706.7 249.4 L706.0 249.3 L706.4 250.6 L706.5 251.9 L706.8 254.0 L707.5 253.4 L706.9 254.0 L707.7 252.3 L707.9 254.6 L707.9 253.7 L708.1 255.5 L708.4 254.7 L708.9 254.4 L709.3 254.7 L709.2 254.2 L709.8 253.7 L710.0 254.0 L710.1 253.8 L710.6 252.5 L710.4 252.1 L711.1 250.7 L710.9 250.2 L711.8 251.7 L711.8 250.9 L712.8 251.1 L713.4 250.7 L713.7 249.9 L714.0 252.0 L714.6 250.9 L714.4 249.8 L714.4 249.9 L715.1 248.9 L715.0 248.6 L715.7 249.0 L715.4 247.6 L715.8 245.8 L716.8 246.1 L717.1 246.1 L717.7 247.4 L718.3 245.3 L718.1 244.5 L718.9 245.6 L718.8 245.7 L719.0 245.7 L718.8 248.0 L719.8 247.7 L720.0 248.7 L719.6 247.2 L719.8 249.8 L719.9 251.2 L720.6 251.2 L720.1 250.8 L720.3 251.5 L720.9 254.0 L721.3 252.6 L721.7 253.2 L723.0 253.2 L722.9 250.3 L723.6 253.0 L723.5 253.3 L723.8 256.1 L723.6 254.0 L723.8 254.3 L724.3 255.2 L724.3 255.4 L724.9 256.8 L724.4 256.5 L724.3 256.6 L724.7 258.1 L725.5 257.0 L725.8 258.0 L724.9 260.8 L725.0 258.1 L725.4 259.5 L725.4 258.2 L725.7 262.3 L725.3 260.2 L725.0 261.2 L724.9 262.0 L726.0 264.6 L725.9 262.9 L725.1 264.4 L725.1 267.2 L726.3 268.4 L726.4 263.2 L725.8 266.2 L726.3 266.7 L726.0 269.6 L726.4 268.4 L726.2 264.7 L726.3 268.8 L726.1 268.6 L726.4 275.0 L726.4 271.0 L727.0 273.8 L726.1 274.6 L726.9 274.1 L726.3 273.1 L726.0 272.2 L727.2 273.1 L726.6 274.1 L727.0 275.8 L726.3 276.7 L726.6 276.5 L727.4 276.8 L727.5 277.1 L726.7 277.6 L727.4 280.6 L727.6 280.0 L726.9 280.1 L728.0 282.9 L727.8 282.1 L727.8 283.1 L727.8 284.5 L728.6 281.6 L728.4 279.1 L728.7 283.3 L729.4 280.2 L728.4 281.1 L728.5 279.5 L728.6 277.9 L729.3 278.0 L728.8 279.7 L729.3 277.8 L728.6 276.5 L728.4 277.7 L728.8 276.8 L729.7 274.0 L728.6 272.7 L729.0 274.7 L729.6 275.5 L729.8 271.1 L728.7 271.7 L729.5 271.9 L729.6 269.6 L728.9 269.6 L728.8 268.4 L729.7 267.9 L729.7 269.5 L729.3 270.7 L729.1 267.4 L730.0 267.3 L729.8 265.6 L729.9 266.9 L730.3 266.8 L730.2 267.0 L730.4 265.4 L730.6 263.7 L730.6 261.6 L731.8 261.7 L731.4 261.4 L731.6 259.5 L732.3 261.5 L731.8 262.4 L732.7 264.4 L731.8 262.1 L732.1 261.2 L732.2 264.6 L732.7 266.3 L732.3 265.8 L732.4 265.8 L733.3 268.1 L732.6 268.1 L733.3 266.8 L733.6 267.6 L733.5 268.9 L733.8 269.0 L734.1 270.4 L733.5 269.4 L734.1 271.6 L734.6 270.5 L734.8 271.0 L735.0 272.6 L735.0 272.9 L735.9 271.7 L736.2 272.9 L735.3 272.4 L736.3 272.9 L736.3 276.7 L735.9 275.4 L735.8 275.5 L736.2 277.2 L735.9 278.6 L736.5 275.2 L735.8 277.8 L736.0 279.3 L735.3 280.0 L736.3 279.3 L736.1 281.8 L735.5 284.6 L735.7 280.1 L736.7 281.8 L736.3 282.7 L736.5 282.0 L735.9 278.2 L735.8 277.6 L736.4 277.7 L736.5 278.4 L737.0 279.4 L736.9 277.5 L736.5 276.7 L736.7 280.2 L737.3 278.1 L736.9 278.6 L737.0 277.6 L737.3 276.8 L736.7 274.7 L737.9 273.8 L737.1 273.6 L737.5 272.2 L738.3 273.8 L737.2 272.7 L738.0 274.5 L738.6 274.7 L737.9 274.8 L738.8 272.9 L738.6 276.7 L738.8 276.7 L738.7 277.9 L738.6 279.3 L738.6 280.1 L738.4 279.3 L738.6 279.7 L739.7 281.7 L739.6 280.5 L739.8 278.4 L741.2 280.2 L741.7 280.3 L741.4 278.3 L741.4 279.9 L741.9 279.2 L741.6 276.3 L741.7 276.6 L741.8 276.2 L741.9 274.3 L742.8 273.9 L741.9 273.8 L742.7 273.5 L742.2 274.3 L742.9 273.0 L742.7 271.0 L743.6 270.2 L743.9 272.4 L744.2 270.3 L743.8 268.9 L744.5 269.9 L744.3 269.2 L744.7 268.8 L744.4 268.6 L745.0 267.3 L745.4 266.8 L745.7 265.8 L745.9 265.8 L746.4 264.4 L746.2 265.3 L747.1 264.3 L747.7 264.1 L748.1 262.9 L748.6 263.5 L749.1 263.0 L749.9 263.1 L750.0 264.0 L750.7 264.2 L750.4 265.9 L750.5 265.2 L750.8 266.0 L750.4 265.6 L750.2 267.1 L750.4 268.2 L750.2 269.4 L750.4 267.9 L751.3 270.4 L751.0 268.9 L751.5 271.1 L751.3 271.3 L751.1 271.5 L751.1 272.4 L751.2 272.1 L751.8 273.7 L752.7 274.0 L752.6 275.3 L753.1 275.4 L753.1 276.0 L753.2 273.8 L753.7 275.8 L754.5 276.6 L754.7 277.4 L755.7 277.3 L755.5 277.0 L756.0 277.5 L756.2 278.8 L756.8 280.5 L756.8 280.1 L757.1 280.3 L757.5 279.7 L757.5 280.1 L757.7 280.8 L758.4 283.5 L758.3 281.8 L758.3 282.9 L758.6 282.2 L759.3 284.2 L759.5 284.5 L759.4 286.8 L758.7 285.5 L759.2 286.2 L759.1 286.0 L759.5 288.1 L759.8 287.9 L760.0 288.6 L759.2 289.7 L759.9 291.1 L760.2 290.2 L760.4 289.7 L760.3 291.8 L761.0 292.4 L760.2 292.4 L760.2 291.6 L760.6 291.8 L760.3 291.8 L761.3 293.9 L760.8 297.7 L760.3 297.8 L760.6 296.1 L760.5 299.0 L760.8 296.7 L760.5 296.6 L761.8 299.6 L760.6 298.4 L761.4 299.5 L761.8 302.7 L761.9 300.6 L761.2 301.3 L761.6 301.7 L760.9 301.7 L762.1 303.6 L761.6 303.3 L762.3 302.0 L761.5 303.7 L762.6 304.1 L762.0 303.2 L762.3 298.2 L763.0 299.2 L763.2 300.7 L762.6 302.4 L763.0 299.4 L763.5 299.5 L763.4 297.1 L763.4 296.6 L762.8 297.6 L762.9 297.2 L764.1 298.5 L763.6 300.9 L764.1 299.4 L763.9 298.9 L763.5 298.6 L763.9 300.2 L764.4 301.9 L764.7 301.8 L764.7 303.0 L764.2 304.7 L764.9 302.8 L765.1 304.4 L765.8 302.4 L765.6 302.8 L766.3 302.6 L766.2 301.6 L766.3 300.5 L766.6 300.6 L766.8 300.9 L767.0 298.1 L767.0 300.0 L766.2 300.3 L767.5 295.8 L767.3 295.3 L766.7 297.2 L767.5 296.3 L767.2 295.9 L767.8 295.0 L767.7 295.5 L767.7 295.2 L768.6 297.3 L768.8 295.6 L769.6 295.8 L769.6 296.7 L769.9 296.7 L770.5 297.8 L770.9 299.2 L771.0 300.4 L771.3 299.6 L772.2 298.9 L772.5 297.6 L772.4 297.7 L773.4 298.3 L773.3 297.1 L774.1 297.5 L774.7 297.5 L775.2 297.0 L775.4 296.9 L776.2 296.7 L776.6 296.1 L777.1 296.7 L777.6 298.8 L778.4 297.8 L779.2 298.2 L779.5 298.4 L780.1 298.1 L780.6 297.3 L781.3 297.8 L781.8 297.0 L782.5 298.1 L782.7 298.9 L783.3 299.4 L784.2 299.6 L784.7 298.8 L785.0 300.0 L785.1 299.1 L785.5 300.1 L785.7 299.5 L786.2 301.1 L786.3 302.3 L786.8 303.5 L786.8 303.3 L786.7 302.5 L787.7 304.0 L787.2 305.8 L787.7 307.5 L788.1 305.8 L788.1 305.7 L788.7 305.8 L788.7 305.9 L788.5 307.5 L788.8 306.3 L789.4 306.6 L789.7 305.8 L790.1 304.5 L789.9 302.5 L789.9 305.3 L790.6 303.0 L790.8 302.8 L791.5 302.6 L791.8 303.0 L791.7 302.0 L791.6 302.7 L792.6 301.3 L792.8 299.6 L792.4 300.4 L793.5 299.5 L793.5 300.4 L794.4 300.2 L795.1 299.5 L795.3 298.9 L796.0 296.3 L795.8 297.9 L796.3 297.1 L796.4 295.9 L796.7 296.1 L796.9 296.4 L797.5 295.9 L797.9 294.2 L798.3 293.8 L798.6 293.0 L798.8 293.3 L798.9 292.0 L799.2 292.6 L799.5 292.0 L800.2 292.8 L800.8 291.0 L800.4 289.7 L801.6 291.7 L801.7 291.3 L801.9 290.6 L802.5 288.7 L802.7 288.7 L802.7 290.3 L803.2 289.9 L803.4 292.0 L803.7 291.9 L803.9 293.8 L804.4 292.3 L804.3 293.8 L804.8 294.2 L805.2 294.9 L804.7 295.4 L804.8 296.2 L805.3 296.5 L805.5 295.4 L805.9 295.1 L805.7 294.7 L806.4 296.0 L806.2 297.1 L806.8 294.6 L806.6 294.0 L807.3 294.1 L807.8 293.0 L807.5 289.9 L807.5 289.8 L807.9 290.0 L808.3 291.4 L808.0 291.7 L808.6 291.6 L808.5 292.2 L808.2 292.8 L808.5 294.6 L808.9 294.9 L809.3 294.9 L809.1 297.3 L809.9 296.9 L810.2 295.3 L810.4 296.4 L811.6 294.9 L812.2 295.9 L812.5 296.0 L812.8 296.4 L812.7 298.7 L813.3 298.6 L813.8 298.6 L813.7 299.7 L813.9 299.6 L814.4 298.7 L813.8 301.5 L814.5 302.0 L814.1 299.6 L814.2 303.9 L814.4 305.6 L814.4 303.0 L814.9 303.9 L814.3 303.8 L815.3 305.3 L815.3 305.4 L815.3 307.1 L815.2 307.3 L815.0 307.2 L814.7 310.0 L814.6 308.8 L815.8 308.2 L815.8 309.2 L816.4 309.2 L816.7 309.7 L817.6 311.3 L817.5 312.1 L818.1 312.5 L817.7 312.7 L817.2 313.0 L817.7 313.7 L818.4 314.8 L818.3 316.3 L818.0 315.3 L817.5 318.8 L818.5 318.6 L817.9 319.7 L817.9 320.6 L818.3 319.4 L818.1 320.0 L818.5 320.7 L817.7 319.9 L818.5 320.2 L818.0 319.6 L818.0 319.5 L818.7 321.2 L819.4 321.9 L819.7 320.5 L820.5 321.2 L821.0 320.9 L821.8 322.9 L822.3 323.9 L822.3 323.1 L823.2 323.0 L822.9 324.5 L823.1 324.5 L823.2 324.7 L824.2 326.6 L823.6 325.7 L824.3 326.6 L824.0 326.3 L824.5 328.3 L824.9 327.7 L825.5 328.4 L825.4 328.5 L825.0 329.1 L825.7 330.1 L825.3 330.8 L826.3 331.1 L825.3 332.5 L825.8 331.3 L826.0 330.1 L826.2 331.4 L825.4 336.1 L826.0 334.9 L825.7 334.4 L826.5 333.3 L826.0 336.0 L826.8 338.4 L826.4 338.4 L826.5 336.3 L827.0 336.4 L826.9 341.1 L826.0 339.5 L826.6 340.0 L827.1 343.3 L826.1 342.3 L826.9 340.8 L826.4 343.7 L826.7 343.5 L827.1 340.6 L826.4 338.9 L827.6 341.8 L827.3 338.7 L827.6 337.1 L827.5 335.6 L827.8 337.8 L828.0 337.7 L827.6 336.3 L828.2 337.1 L827.4 336.2 L827.5 334.7 L828.6 334.8 L828.0 333.2 L827.7 334.2 L828.8 334.9 L828.2 334.8 L827.8 333.0 L829.0 332.7 L828.4 336.0 L829.1 334.2 L829.0 328.4 L829.0 327.3 L828.9 327.5 L829.4 328.9 L829.3 327.7 L828.7 324.3 L828.9 327.0 L828.8 322.4 L829.7 322.6 L829.0 322.3 L829.5 320.7 L829.7 325.4 L829.9 321.5 L829.1 320.9 L829.6 320.2 L829.0 324.6 L829.5 321.3 L829.4 320.6 L830.1 321.9 L830.4 320.1 L829.6 319.8 L830.3 317.7 L829.7 317.1 L831.1 317.4 L831.1 317.3 L832.3 317.9 L832.3 317.4 L832.0 318.4 L832.9 316.2 L833.3 315.6 L833.4 315.9 L833.6 315.0 L833.3 314.9 L833.7 314.2 L834.5 313.9 L834.3 312.9 L835.1 315.3 L835.2 313.7 L835.0 312.4 L835.7 315.0 L835.6 313.0 L836.7 315.6 L836.2 316.4 L836.2 316.3 L837.3 318.4 L836.5 318.1 L837.6 317.2 L836.8 319.3 L837.9 317.2 L837.9 319.1 L837.6 319.9 L837.5 322.2 L837.6 324.9 L837.9 324.0 L836.9 323.3 L837.7 323.6 L837.1 324.5 L838.1 324.9 L838.3 323.4 L837.6 326.1 L838.3 326.1 L837.7 324.8 L838.2 330.0 L837.7 328.4 L838.0 331.0 L837.6 329.1 L837.7 326.9 L838.6 328.9 L838.8 330.6 L838.7 328.7 L838.2 326.6 L838.7 325.6 L839.5 327.3 L839.6 326.2 L839.2 326.5 L839.1 325.4 L839.3 325.1 L840.1 325.2 L840.5 325.1 L840.6 326.2 L840.5 326.2 L840.1 327.7 L840.1 329.1 L840.5 330.9 L841.0 331.7 L841.5 331.9 L841.5 331.2 L841.0 332.7 L841.0 334.2 L841.1 333.9 L841.3 334.7 L842.2 335.4 L841.6 333.6 L842.3 336.1 L842.7 334.9 L843.1 333.7 L843.3 332.4 L844.5 333.8 L844.1 333.7 L844.6 333.5 L845.0 334.7 L845.0 333.7 L845.5 334.4 L845.9 335.2 L846.5 335.1 L846.9 335.1 L847.0 335.9 L847.0 337.7 L847.1 336.6 L847.4 336.7 L847.5 334.3 L847.3 335.3 L847.5 333.8 L848.6 333.6 L848.3 333.7 L848.4 334.3 L848.1 333.1 L848.5 335.5 L849.0 334.7 L848.8 338.7 L848.9 333.9 L848.7 337.0 L849.2 336.4 L849.7 337.5 L849.3 339.4 L849.1 338.7 L850.1 338.9 L850.0 340.4 L849.6 339.0 L850.4 338.7 L850.4 340.2 L849.9 339.7 L851.0 339.1 L850.7 340.0 L851.2 339.0 L851.7 337.5 L851.1 335.4 L851.3 336.6 L851.3 337.0 L851.9 337.4 L851.6 335.5 L852.5 335.6 L852.1 334.2 L852.6 333.8 L852.7 333.9 L853.0 331.7 L853.2 331.5 L853.8 330.8 L854.0 331.1 L854.7 331.2 L854.9 331.0 L855.1 329.7 L855.0 328.2 L855.4 329.7 L855.4 328.0 L855.8 325.7 L856.4 328.8 L856.0 328.1 L856.1 327.6 L856.8 325.6 L856.7 326.1 L857.4 325.2 L857.1 323.6 L857.0 323.6 L857.9 321.8 L857.7 320.8 L858.0 320.0 L858.5 322.6 L857.9 320.5 L858.6 319.3 L858.9 321.7 L859.1 318.4 L858.4 318.8 L858.6 318.3 L858.9 318.1 L858.7 316.1 L859.2 316.9 L859.5 315.5 L860.2 316.2 L860.3 315.4 L860.1 315.0 L860.4 317.7 L860.9 318.5 L861.0 318.8 L861.0 319.9 L861.2 319.8 L861.5 320.7 L861.5 319.9 L862.6 318.0 L862.6 318.7 L863.5 319.7 L863.7 318.6 L863.9 318.5 L864.5 318.3 L865.1 317.7 L865.6 318.6 L865.5 318.8 L866.1 320.4 L866.0 319.9 L865.6 320.1 L866.5 321.0 L866.0 320.9 L866.7 321.0 L867.3 322.9 L866.9 322.7 L867.3 323.6 L867.7 324.7 L867.0 325.0 L867.3 326.0 L867.5 325.0 L868.2 325.3 L868.1 323.9 L868.0 324.0 L868.0 323.2 L868.9 322.3 L869.3 322.7 L869.2 321.6 L869.2 320.2 L869.3 320.9 L869.3 320.2 L869.6 319.3 L870.2 318.2 L869.9 318.2 L870.4 316.0 L870.8 316.4 L870.5 316.4 L870.8 315.8 L871.4 316.7 L871.6 316.8 L872.3 318.8 L873.1 320.5 L872.9 320.0 L873.9 319.3 L874.3 320.1 L874.1 321.8 L874.8 319.4 L875.1 322.3 L874.5 322.1 L874.7 322.1 L875.8 324.1 L876.1 323.4 L875.7 324.3 L875.9 327.2 L876.9 325.5 L876.6 328.8 L877.3 325.4 L877.7 325.8 L877.6 324.9 L878.3 325.3 L877.9 323.1 L878.5 322.4 L879.0 324.1 L879.3 322.5 L879.5 321.0 L879.6 322.2 L880.3 319.8 L880.7 320.4 L880.6 319.4 L881.2 321.0 L880.6 321.0 L881.3 322.6 L880.5 322.1 L880.6 322.3 L880.9 320.8 L880.6 321.5 L881.2 321.6 L881.0 322.8 L881.8 324.0 L881.3 326.3 L881.2 325.9 L881.3 324.8 L882.3 325.3 L881.2 324.6 L881.4 327.6 L881.7 329.5 L882.1 329.0 L881.5 326.5 L881.8 329.1 L882.3 331.4 L882.0 330.9 L883.0 332.1 L882.3 331.4 L882.4 331.6 L883.0 333.5 L883.5 334.2 L882.3 334.7 L883.5 335.2 L883.4 336.7 L883.5 338.3 L884.0 337.2 L883.4 340.0 L884.1 337.2 L884.0 340.0 L884.4 342.1 L883.6 339.6 L883.5 340.1 L883.9 340.2 L883.9 342.7 L884.9 342.2 L884.2 345.5 L885.0 343.9 L884.0 344.4 L884.5 344.9 L884.7 345.5 L885.4 349.0 L884.8 345.7 L884.5 347.0 L885.9 343.9 L885.8 347.2 L885.7 347.9 L884.8 347.3 L884.8 346.7 L885.7 345.6 L884.8 343.4 L885.7 338.9 L884.9 342.2 L886.2 341.4 L885.1 341.9 L885.8 340.9 L885.1 341.6 L885.1 342.0 L886.2 338.3 L885.0 339.1 L885.8 338.3 L885.3 338.5 L886.0 336.1 L886.2 340.4 L886.5 338.6 L887.1 338.6 L886.6 341.3 L886.7 341.6 L886.9 339.8 L887.2 339.2 L887.8 340.4 L888.6 341.8 L888.0 343.7 L888.0 343.6 L888.4 341.4 L888.6 342.1 L889.3 343.5 L888.5 342.5 L889.0 346.7 L889.4 349.8 L888.5 349.6 L888.6 350.5 L889.0 350.0 L889.5 350.3 L889.4 351.3 L889.3 349.8 L888.8 349.5 L889.3 351.6 L889.9 351.3 L889.7 349.8 L889.5 351.5 L890.5 353.4 L890.1 352.9 L890.1 353.6 L890.1 354.5 L890.9 355.4 L890.8 354.9 L890.8 353.2 L891.4 353.5 L891.2 352.4 L891.6 350.9 L892.0 351.5 L892.5 349.8 L892.3 351.2 L892.4 351.6 L893.1 353.5 L893.3 353.7 L892.5 355.4 L893.7 352.7 L893.5 354.5 L893.0 356.5 L893.9 354.2 L894.1 356.1 L892.9 355.1 L893.7 358.3 L894.2 357.5 L893.1 359.4 L893.3 361.0 L893.9 361.2 L893.5 360.3 L894.6 362.5 L893.9 361.0 L894.4 360.7 L894.6 362.4 L894.1 361.1 L895.1 362.2 L894.7 364.7 L895.2 364.9 L895.2 365.9 L894.5 365.0 L894.8 364.1 L895.2 365.3 L895.2 368.1 L894.5 367.3 L895.0 368.0 L894.5 368.1 L894.7 371.7 L895.5 370.6 L895.1 372.5 L894.4 373.1 L895.6 371.7 L894.6 372.5 L894.7 372.0 L895.9 371.2 L895.5 370.4 L895.7 370.5 L896.0 370.6 L896.6 370.7 L896.6 368.9 L897.0 370.3 L897.4 367.9 L897.6 368.1 L898.1 368.7 L898.6 368.5 L898.7 367.4 L898.3 367.6 L899.2 369.1 L898.7 366.9 L898.7 365.0 L899.5 365.7 L899.2 365.6 L899.8 362.4 L899.8 363.2 L899.3 362.0 L899.7 363.8 L900.3 361.4 L900.1 360.5 L899.6 360.4 L900.5 356.9 L900.2 359.0 L900.6 358.8 L901.3 359.8 L900.8 358.5 L900.8 359.6 L901.0 359.4 L900.6 360.6 L901.7 359.0 L901.1 361.6 L901.2 360.7 L901.0 361.5 L901.4 363.1 L901.0 363.7 L900.7 362.9 L900.7 361.1 L901.4 361.2 L901.0 363.4 L901.3 363.3 L901.5 367.2 L901.5 366.8 L900.9 369.0 L902.3 367.9 L902.3 365.1 L901.3 367.1 L902.0 366.9 L901.2 367.7 L901.9 370.2 L901.3 369.9 L901.5 368.3 L902.4 370.4 L902.5 371.2 L902.1 371.7 L902.4 372.1 L902.2 372.3 L902.7 375.9 L902.2 375.7 L902.7 373.4 L902.0 373.6 L901.7 374.5 L903.0 375.6 L901.9 376.9 L901.9 379.2 L902.5 378.2 L902.6 377.0 L901.9 383.8 L902.5 381.1 L902.6 381.9 L902.5 380.8 L903.1 384.0 L903.1 382.7 L902.2 382.4 L903.3 383.6 L902.9 384.5 L902.4 386.5 L903.3 383.3 L903.6 386.9 L903.7 386.7 L904.2 388.2 L904.4 386.4 L905.2 387.6 L905.6 388.4 L905.6 389.1 L905.8 390.4 L906.1 389.7 L905.6 389.6 L906.6 391.3 L906.7 390.8 L906.4 393.0 L905.6 392.4 L905.5 395.4 L905.7 393.7 L906.8 395.3 L906.6 395.9 L905.6 394.2 L906.4 398.1 L906.9 396.5 L906.6 397.4 L906.5 399.9 L905.9 398.6 L906.5 395.5 L906.6 398.9 L905.8 398.3 L906.1 400.3 L905.9 401.2 L906.9 402.2 L907.0 404.6 L906.1 403.2 L907.1 404.2 L906.2 402.7 L906.2 403.5 L906.3 406.5 L907.3 405.4 L906.9 403.2 L906.8 404.8 L906.9 408.1 L907.4 409.7 L906.7 407.7 L906.6 408.3 L906.8 409.4 L906.4 411.6 L906.6 411.0 L906.5 413.8 L907.2 409.9 L906.8 411.2 L907.2 412.5 L906.6 411.4 L907.4 414.3 L907.4 413.7 L908.0 414.1 L907.4 416.9 L907.8 415.0 L907.3 414.0 L907.7 417.2 L907.8 417.5 L907.5 416.1 L907.7 416.9 L907.7 420.7 L908.0 419.3 L908.4 421.2 L908.0 422.0 L908.2 423.9 L907.4 421.9 L907.9 421.3 L908.7 420.7 L908.4 422.8 L908.7 423.3 L907.8 423.4 L908.3 426.4 L908.7 425.0 L907.9 421.3 L907.8 424.4 L908.1 426.1 L909.2 427.2 L908.4 427.3 L908.2 428.8 L909.3 429.8 L909.0 431.3 L909.3 430.8 L909.2 432.2 L908.8 435.0 L909.4 435.2 L908.1 432.4 L908.9 434.3 L908.5 433.7 L909.5 436.1 L909.3 431.6 L909.7 434.0 L908.8 430.4 L908.8 429.7 L909.0 430.9 L909.7 430.5 L909.4 431.0 L908.9 429.0 L909.8 427.6 L909.1 426.2 L909.0 427.4 L909.2 425.4 L909.5 425.6 L910.4 425.8 L910.2 423.6 L909.3 424.8 L909.7 426.3 L909.6 425.2 L910.8 423.9 L910.0 424.5 L909.8 421.4 L910.0 419.0 L910.7 419.0 L909.8 420.2 L909.8 417.2 L911.2 419.6 L910.1 416.4 L910.2 415.4 L910.0 418.6 L911.3 413.2 L911.1 415.0 L910.5 415.5 L910.9 416.1 L910.8 412.1 L910.8 410.6 L911.8 412.0 L911.2 413.0 L911.2 412.8 L912.5 410.4 L912.6 410.2 L912.3 409.7 L912.0 407.8 L912.3 406.8 L912.4 408.3 L913.0 410.5 L913.2 404.4 L912.5 405.9 L913.0 406.6 L913.7 406.0 L913.5 402.7 L913.2 403.8 L913.0 404.3 L913.4 405.8 L913.7 400.9 L913.3 401.5 L914.1 399.6 L914.2 401.2 L913.1 398.6 L913.4 399.7 L913.2 397.4 L913.3 395.5 L914.3 395.9 L913.9 398.1 L913.9 397.1 L913.6 396.1 L914.6 396.5 L914.0 397.6 L914.1 392.1 L914.3 396.2 L914.9 396.8 L913.6 398.8 L915.0 398.5 L914.5 398.7 L914.0 400.7 L914.0 397.8 L914.4 399.4 L915.2 402.2 L914.7 401.9 L914.2 399.8 L915.1 402.4 L914.6 402.0 L914.3 401.9 L915.4 402.9 L914.3 403.4 L915.0 404.8 L915.3 404.1 L914.6 408.2 L915.4 405.5 L915.1 405.6 L915.9 407.3 L915.4 410.1 L915.9 409.1 L915.9 407.9 L915.0 408.2 L915.1 407.2 L915.4 405.9 L916.6 406.7 L915.6 405.4 L916.5 405.7 L916.5 404.7 L916.2 401.8 L917.4 401.3 L916.5 400.3 L917.7 400.8 L916.7 402.4 L917.7 401.9 L917.8 399.6 L917.6 401.9 L917.8 404.4 L917.8 404.7 L917.0 406.6 L917.2 407.4 L917.9 407.8 L917.6 405.5 L917.4 408.8 L917.8 408.8 L918.4 409.4 L918.4 412.7 L917.9 410.5 L918.3 413.1 L918.8 411.4 L918.8 412.1 L918.1 413.0 L918.8 412.8 L919.2 414.7 L918.5 412.7 L918.4 415.0 L918.6 417.5 L919.1 417.0 L919.0 415.7 L919.4 419.0 L919.2 418.7 L919.7 420.1 L918.4 417.7 L919.5 418.4 L918.9 420.4 L918.6 419.7 L919.5 419.1" fill="none" stroke="#0000ff" stroke-width="2.8" stroke-linejoin="round" stroke-linecap="round"/>
<path d="M250.8 420 L250.8 455.7" fill="none" stroke="#0000ff" stroke-width="2.3" stroke-linecap="round"/>
<rect x="116.0" y="565.3" width="833.0" height="25.1" fill="#000"/>
<path d="M107.5 583.8 L116 583.8 L116 589.2 L111 589.2 Z" fill="#000"/>
<g stroke="#1a1a1a" stroke-width="1.25">
<line x1="168.42" y1="590" x2="168.42" y2="629.4"/>
<line x1="220.44" y1="590" x2="220.44" y2="629.4"/>
<line x1="272.46" y1="590" x2="272.46" y2="629.4"/>
<line x1="324.48" y1="590" x2="324.48" y2="629.4"/>
<line x1="376.50" y1="590" x2="376.50" y2="629.4"/>
<line x1="428.52" y1="590" x2="428.52" y2="629.4"/>
<line x1="480.54" y1="590" x2="480.54" y2="629.4"/>
<line x1="532.56" y1="590" x2="532.56" y2="629.4"/>
<line x1="584.58" y1="590" x2="584.58" y2="629.4"/>
<line x1="636.60" y1="590" x2="636.60" y2="629.4"/>
<line x1="688.62" y1="590" x2="688.62" y2="629.4"/>
<line x1="740.64" y1="590" x2="740.64" y2="629.4"/>
<line x1="792.66" y1="590" x2="792.66" y2="629.4"/>
<line x1="844.68" y1="590" x2="844.68" y2="629.4"/>
<line x1="896.70" y1="590" x2="896.70" y2="629.4"/>
<line x1="948.72" y1="590" x2="948.72" y2="629.4"/>
</g>
<g font-size="20" text-anchor="middle">
<text x="141.53" y="624.3">00</text>
<text x="193.59" y="624.3">01</text>
<text x="245.66" y="624.3">02</text>
<text x="297.72" y="624.3">03</text>
<text x="349.78" y="624.3">04</text>
<text x="401.84" y="624.3">05</text>
<text x="453.91" y="624.3">06</text>
<text x="505.97" y="624.3">07</text>
<text x="558.03" y="624.3">08</text>
<text x="610.09" y="624.3">09</text>
<text x="662.16" y="624.3">10</text>
<text x="714.22" y="624.3">11</text>
<text x="766.28" y="624.3">12</text>
<text x="818.34" y="624.3">13</text>
<text x="870.41" y="624.3">14</text>
<text x="922.47" y="624.3">15</text>
</g>
<g font-size="20" text-anchor="end">
<text x="100.2" y="86.4">0.0</text>
<text x="100.2" y="140.4">0.5</text>
<text x="100.2" y="194.4">1.0</text>
<text x="100.2" y="248.4">1.5</text>
<text x="100.2" y="302.4">2.0</text>
<text x="100.2" y="356.4">2.5</text>
<text x="100.2" y="410.4">3.0</text>
<text x="100.2" y="464.4">3.5</text>
<text x="100.2" y="518.4">4.0</text>
<text x="100.2" y="572.4">4.5</text>
</g>
<text transform="translate(31.6 411) rotate(-90)" font-size="19" font-weight="bold">Brazilian Real / US $</text>
<text transform="translate(62.8 42.8) scale(1 1.09)" font-size="30" style="font-family:'Liberation Serif',serif">Fig 8</text>
<text x="341.2" y="37.2" font-size="25.3">Brazilian</text><text x="445.6" y="37.2" font-size="25" textLength="85.4" lengthAdjust="spacing">Real / $</text><text x="531.6" y="37.3" font-size="14">. Source Oanda</text>
<g>
<path d="M778.76 23.52 A22 23.1 0 1 1 778.76 51.68 A18.2 18.9 0 1 0 778.76 23.52 Z" fill="url(#cres)"/>
<rect x="759" y="30.75" width="155" height="13.5" fill="#fff"/>
<text x="760.6" y="42.3" font-size="13" font-weight="bold" textLength="41.6" lengthAdjust="spacingAndGlyphs" style="fill:url(#tb);stroke:#173f90;stroke-width:0.45">STEEL</text>
<text x="808.2" y="42.3" font-size="13" textLength="51" lengthAdjust="spacingAndGlyphs" style="fill:url(#tb2);stroke:#1f4a9c;stroke-width:0.3">MARKET</text>
<text x="864.0" y="42.3" font-size="13" textLength="47.8" lengthAdjust="spacingAndGlyphs" style="fill:url(#tb3)">UPDATE</text>
</g>
</svg></body></html>
